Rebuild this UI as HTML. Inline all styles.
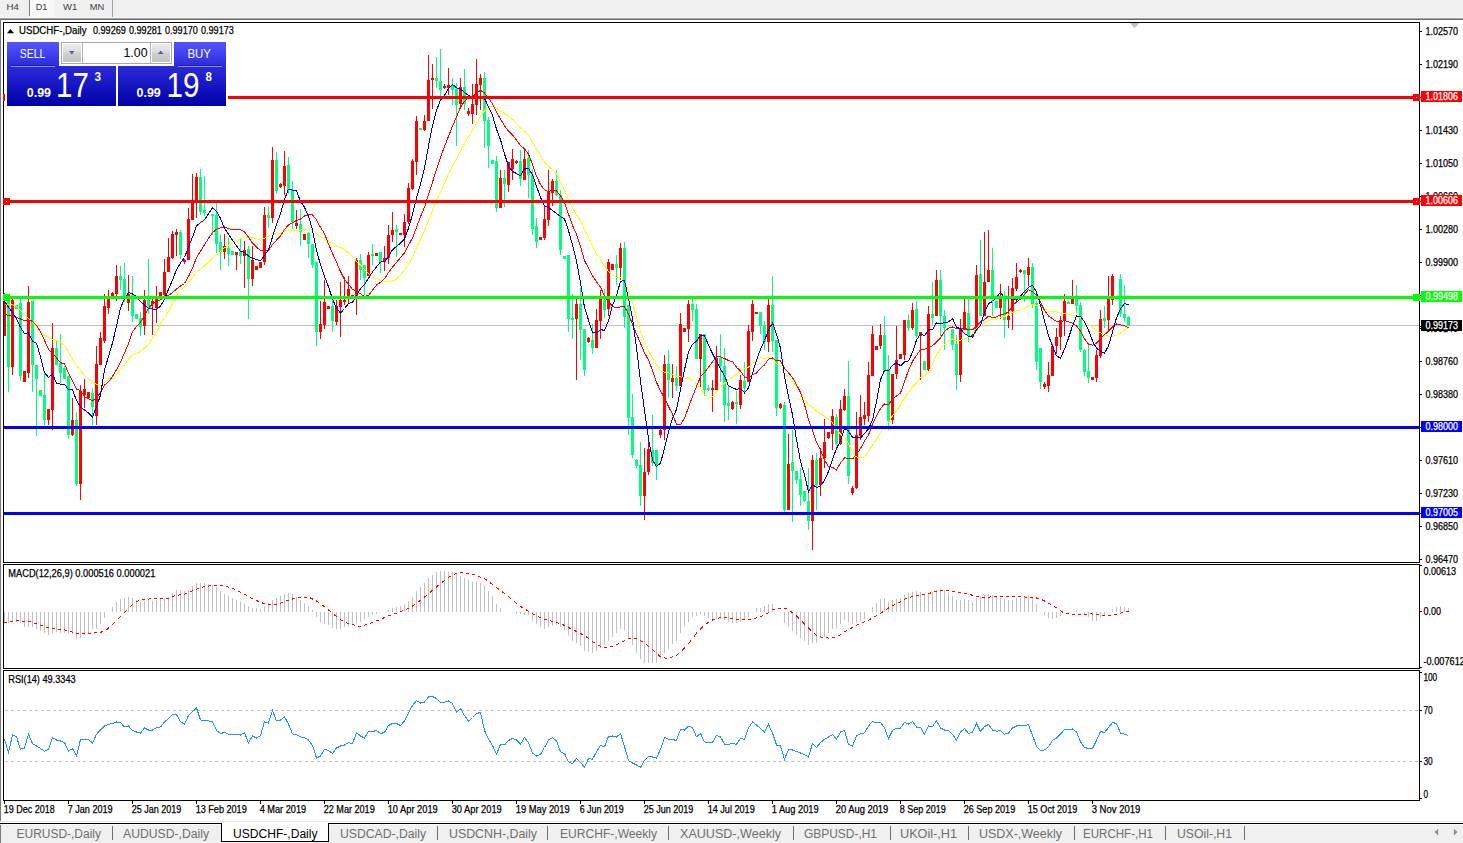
<!DOCTYPE html>
<html><head><meta charset="utf-8"><title>USDCHF-,Daily</title>
<style>html,body{margin:0;padding:0;background:#fff;overflow:hidden}body{width:1463px;height:843px;position:relative;font-family:"Liberation Sans", sans-serif}svg{position:absolute;left:0;top:0;display:block}text{font-family:"Liberation Sans", sans-serif;white-space:pre}</style>
</head><body>
<svg width="1463" height="843" viewBox="0 0 1463 843">
<defs>
<linearGradient id="gbtn" x1="0" y1="0" x2="0" y2="1"><stop offset="0" stop-color="#ececec"/><stop offset="0.45" stop-color="#dcdcdc"/><stop offset="0.5" stop-color="#cfcfcf"/><stop offset="1" stop-color="#c4c4c4"/></linearGradient>
<pattern id="st" x="4" y="0" width="6" height="843" patternUnits="userSpaceOnUse"><rect x="0" y="0" width="3" height="843" fill="#fff"/></pattern>
<mask id="dm" maskUnits="userSpaceOnUse" x="0" y="560" width="1420" height="112"><rect x="0" y="560" width="1420" height="112" fill="url(#st)"/></mask>
<linearGradient id="gb2" x1="0" y1="42" x2="0" y2="106" gradientUnits="userSpaceOnUse"><stop offset="0" stop-color="#5555ff"/><stop offset="0.4" stop-color="#2828d8"/><stop offset="1" stop-color="#0000a8"/></linearGradient>
</defs>
<g shape-rendering="crispEdges">
<rect x="0" y="0" width="1463" height="843" fill="#fff"/>
<rect x="0" y="0" width="1463" height="18" fill="#f0f0f0"/>
<rect x="0" y="17" width="1463" height="1" fill="#f6f6f6"/>
<rect x="0" y="18" width="1463" height="1" fill="#a6a6a6"/>
<rect x="0" y="19" width="1463" height="1" fill="#6c6c6c"/>
<rect x="30" y="0" width="24" height="17" fill="#f8f8f8"/>
<rect x="29" y="0" width="1" height="16" fill="#808080"/>
<rect x="112" y="0" width="1" height="17" fill="#a0a0a0"/>
<rect x="0" y="19" width="1" height="802" fill="#7a7a7a"/>
<rect x="1" y="20" width="1" height="801" fill="#f6f6f6"/>
<rect x="0" y="821" width="1463" height="1" fill="#e8e8e8"/>
<rect x="0" y="823" width="1463" height="1" fill="#000"/>
<rect x="0" y="824" width="1463" height="1" fill="#fbfbfb"/>
<rect x="0" y="825" width="1463" height="18" fill="#f0f0f0"/>
<rect x="0" y="825" width="1" height="18" fill="#7a7a7a"/>
</g>
<g shape-rendering="crispEdges">
<rect x="4" y="325" width="1415" height="1" fill="#c0c0c0"/>
<rect x="4" y="293" width="1" height="43" fill="#ff0000"/>
<rect x="3" y="303" width="3" height="33" fill="#ff0000"/>
<rect x="8" y="298" width="1" height="94" fill="#00ff7f"/>
<rect x="7" y="300" width="3" height="67" fill="#00ff7f"/>
<rect x="12" y="298" width="1" height="77" fill="#ff0000"/>
<rect x="11" y="300" width="3" height="67" fill="#ff0000"/>
<rect x="16" y="305" width="1" height="4" fill="#00ff7f"/>
<rect x="15" y="305" width="3" height="4" fill="#00ff7f"/>
<rect x="20" y="299" width="1" height="82" fill="#00ff7f"/>
<rect x="19" y="303" width="3" height="73" fill="#00ff7f"/>
<rect x="24" y="371" width="1" height="11" fill="#ff0000"/>
<rect x="23" y="371" width="3" height="11" fill="#ff0000"/>
<rect x="28" y="286" width="1" height="92" fill="#ff0000"/>
<rect x="27" y="302" width="3" height="71" fill="#ff0000"/>
<rect x="32" y="301" width="1" height="91" fill="#00ff7f"/>
<rect x="31" y="301" width="3" height="64" fill="#00ff7f"/>
<rect x="36" y="365" width="1" height="71" fill="#00ff7f"/>
<rect x="35" y="365" width="3" height="14" fill="#00ff7f"/>
<rect x="40" y="390" width="1" height="6" fill="#00ff7f"/>
<rect x="39" y="390" width="3" height="6" fill="#00ff7f"/>
<rect x="44" y="372" width="1" height="53" fill="#00ff7f"/>
<rect x="43" y="395" width="3" height="25" fill="#00ff7f"/>
<rect x="48" y="409" width="1" height="16" fill="#ff0000"/>
<rect x="47" y="409" width="3" height="11" fill="#ff0000"/>
<rect x="52" y="323" width="1" height="107" fill="#ff0000"/>
<rect x="51" y="348" width="3" height="62" fill="#ff0000"/>
<rect x="56" y="341" width="1" height="24" fill="#00ff7f"/>
<rect x="55" y="348" width="3" height="17" fill="#00ff7f"/>
<rect x="60" y="334" width="1" height="49" fill="#00ff7f"/>
<rect x="59" y="363" width="3" height="10" fill="#00ff7f"/>
<rect x="64" y="366" width="1" height="13" fill="#00ff7f"/>
<rect x="63" y="368" width="3" height="11" fill="#00ff7f"/>
<rect x="68" y="376" width="1" height="63" fill="#00ff7f"/>
<rect x="67" y="376" width="3" height="59" fill="#00ff7f"/>
<rect x="72" y="398" width="1" height="38" fill="#ff0000"/>
<rect x="71" y="420" width="3" height="15" fill="#ff0000"/>
<rect x="76" y="412" width="1" height="74" fill="#00ff7f"/>
<rect x="75" y="420" width="3" height="64" fill="#00ff7f"/>
<rect x="80" y="385" width="1" height="115" fill="#ff0000"/>
<rect x="79" y="391" width="3" height="93" fill="#ff0000"/>
<rect x="84" y="379" width="1" height="29" fill="#ff0000"/>
<rect x="83" y="389" width="3" height="6" fill="#ff0000"/>
<rect x="88" y="392" width="1" height="6" fill="#ff0000"/>
<rect x="87" y="392" width="3" height="6" fill="#ff0000"/>
<rect x="92" y="388" width="1" height="37" fill="#00ff7f"/>
<rect x="91" y="393" width="3" height="14" fill="#00ff7f"/>
<rect x="96" y="346" width="1" height="79" fill="#ff0000"/>
<rect x="95" y="364" width="3" height="52" fill="#ff0000"/>
<rect x="100" y="332" width="1" height="33" fill="#ff0000"/>
<rect x="99" y="338" width="3" height="27" fill="#ff0000"/>
<rect x="104" y="294" width="1" height="49" fill="#ff0000"/>
<rect x="103" y="306" width="3" height="35" fill="#ff0000"/>
<rect x="108" y="290" width="1" height="24" fill="#ff0000"/>
<rect x="107" y="299" width="3" height="9" fill="#ff0000"/>
<rect x="112" y="292" width="1" height="4" fill="#ff0000"/>
<rect x="111" y="293" width="3" height="3" fill="#ff0000"/>
<rect x="116" y="265" width="1" height="36" fill="#ff0000"/>
<rect x="115" y="276" width="3" height="18" fill="#ff0000"/>
<rect x="120" y="266" width="1" height="24" fill="#00ff7f"/>
<rect x="119" y="276" width="3" height="4" fill="#00ff7f"/>
<rect x="124" y="263" width="1" height="39" fill="#00ff7f"/>
<rect x="123" y="279" width="3" height="20" fill="#00ff7f"/>
<rect x="128" y="275" width="1" height="36" fill="#ff0000"/>
<rect x="127" y="294" width="3" height="9" fill="#ff0000"/>
<rect x="132" y="276" width="1" height="46" fill="#00ff7f"/>
<rect x="131" y="295" width="3" height="21" fill="#00ff7f"/>
<rect x="136" y="314" width="1" height="5" fill="#00ff7f"/>
<rect x="135" y="314" width="3" height="5" fill="#00ff7f"/>
<rect x="140" y="312" width="1" height="24" fill="#00ff7f"/>
<rect x="139" y="318" width="3" height="9" fill="#00ff7f"/>
<rect x="144" y="290" width="1" height="45" fill="#ff0000"/>
<rect x="143" y="300" width="3" height="26" fill="#ff0000"/>
<rect x="148" y="259" width="1" height="55" fill="#00ff7f"/>
<rect x="147" y="300" width="3" height="6" fill="#00ff7f"/>
<rect x="152" y="296" width="1" height="39" fill="#ff0000"/>
<rect x="151" y="301" width="3" height="3" fill="#ff0000"/>
<rect x="156" y="286" width="1" height="37" fill="#ff0000"/>
<rect x="155" y="298" width="3" height="10" fill="#ff0000"/>
<rect x="160" y="292" width="1" height="4" fill="#ff0000"/>
<rect x="159" y="292" width="3" height="4" fill="#ff0000"/>
<rect x="164" y="259" width="1" height="37" fill="#ff0000"/>
<rect x="163" y="272" width="3" height="23" fill="#ff0000"/>
<rect x="168" y="238" width="1" height="34" fill="#ff0000"/>
<rect x="167" y="257" width="3" height="15" fill="#ff0000"/>
<rect x="172" y="231" width="1" height="28" fill="#ff0000"/>
<rect x="171" y="234" width="3" height="24" fill="#ff0000"/>
<rect x="176" y="229" width="1" height="27" fill="#ff0000"/>
<rect x="175" y="232" width="3" height="3" fill="#ff0000"/>
<rect x="180" y="230" width="1" height="29" fill="#00ff7f"/>
<rect x="179" y="232" width="3" height="23" fill="#00ff7f"/>
<rect x="184" y="259" width="1" height="5" fill="#ff0000"/>
<rect x="183" y="260" width="3" height="2" fill="#ff0000"/>
<rect x="188" y="208" width="1" height="52" fill="#ff0000"/>
<rect x="187" y="219" width="3" height="41" fill="#ff0000"/>
<rect x="192" y="174" width="1" height="46" fill="#ff0000"/>
<rect x="191" y="202" width="3" height="18" fill="#ff0000"/>
<rect x="196" y="173" width="1" height="45" fill="#ff0000"/>
<rect x="195" y="177" width="3" height="25" fill="#ff0000"/>
<rect x="200" y="169" width="1" height="46" fill="#00ff7f"/>
<rect x="199" y="177" width="3" height="35" fill="#00ff7f"/>
<rect x="204" y="176" width="1" height="40" fill="#00ff7f"/>
<rect x="203" y="210" width="3" height="3" fill="#00ff7f"/>
<rect x="212" y="214" width="1" height="21" fill="#00ff7f"/>
<rect x="211" y="214" width="3" height="2" fill="#00ff7f"/>
<rect x="216" y="202" width="1" height="51" fill="#00ff7f"/>
<rect x="215" y="215" width="3" height="29" fill="#00ff7f"/>
<rect x="220" y="235" width="1" height="35" fill="#00ff7f"/>
<rect x="219" y="242" width="3" height="10" fill="#00ff7f"/>
<rect x="224" y="234" width="1" height="25" fill="#ff0000"/>
<rect x="223" y="246" width="3" height="6" fill="#ff0000"/>
<rect x="228" y="238" width="1" height="28" fill="#00ff7f"/>
<rect x="227" y="248" width="3" height="6" fill="#00ff7f"/>
<rect x="232" y="251" width="1" height="4" fill="#00ff7f"/>
<rect x="231" y="251" width="3" height="4" fill="#00ff7f"/>
<rect x="236" y="252" width="1" height="18" fill="#ff0000"/>
<rect x="235" y="252" width="3" height="3" fill="#ff0000"/>
<rect x="240" y="238" width="1" height="26" fill="#00ff7f"/>
<rect x="239" y="252" width="3" height="4" fill="#00ff7f"/>
<rect x="244" y="241" width="1" height="47" fill="#ff0000"/>
<rect x="243" y="250" width="3" height="6" fill="#ff0000"/>
<rect x="248" y="246" width="1" height="73" fill="#00ff7f"/>
<rect x="247" y="249" width="3" height="30" fill="#00ff7f"/>
<rect x="252" y="246" width="1" height="40" fill="#ff0000"/>
<rect x="251" y="260" width="3" height="19" fill="#ff0000"/>
<rect x="256" y="266" width="1" height="4" fill="#ff0000"/>
<rect x="255" y="266" width="3" height="4" fill="#ff0000"/>
<rect x="260" y="262" width="1" height="6" fill="#ff0000"/>
<rect x="259" y="262" width="3" height="6" fill="#ff0000"/>
<rect x="264" y="207" width="1" height="58" fill="#ff0000"/>
<rect x="263" y="215" width="3" height="47" fill="#ff0000"/>
<rect x="268" y="206" width="1" height="22" fill="#00ff7f"/>
<rect x="267" y="215" width="3" height="3" fill="#00ff7f"/>
<rect x="272" y="147" width="1" height="76" fill="#ff0000"/>
<rect x="271" y="160" width="3" height="58" fill="#ff0000"/>
<rect x="276" y="152" width="1" height="42" fill="#00ff7f"/>
<rect x="275" y="160" width="3" height="31" fill="#00ff7f"/>
<rect x="280" y="183" width="1" height="5" fill="#ff0000"/>
<rect x="279" y="184" width="3" height="3" fill="#ff0000"/>
<rect x="284" y="151" width="1" height="44" fill="#ff0000"/>
<rect x="283" y="166" width="3" height="20" fill="#ff0000"/>
<rect x="288" y="157" width="1" height="37" fill="#00ff7f"/>
<rect x="287" y="165" width="3" height="25" fill="#00ff7f"/>
<rect x="292" y="181" width="1" height="48" fill="#00ff7f"/>
<rect x="291" y="190" width="3" height="32" fill="#00ff7f"/>
<rect x="296" y="210" width="1" height="19" fill="#ff0000"/>
<rect x="295" y="223" width="3" height="3" fill="#ff0000"/>
<rect x="300" y="209" width="1" height="37" fill="#00ff7f"/>
<rect x="299" y="224" width="3" height="8" fill="#00ff7f"/>
<rect x="304" y="234" width="1" height="6" fill="#ff0000"/>
<rect x="303" y="234" width="3" height="6" fill="#ff0000"/>
<rect x="308" y="232" width="1" height="26" fill="#00ff7f"/>
<rect x="307" y="233" width="3" height="11" fill="#00ff7f"/>
<rect x="312" y="244" width="1" height="24" fill="#00ff7f"/>
<rect x="311" y="244" width="3" height="21" fill="#00ff7f"/>
<rect x="316" y="262" width="1" height="84" fill="#00ff7f"/>
<rect x="315" y="262" width="3" height="70" fill="#00ff7f"/>
<rect x="320" y="301" width="1" height="38" fill="#ff0000"/>
<rect x="319" y="324" width="3" height="8" fill="#ff0000"/>
<rect x="324" y="280" width="1" height="49" fill="#ff0000"/>
<rect x="323" y="302" width="3" height="23" fill="#ff0000"/>
<rect x="328" y="306" width="1" height="3" fill="#ff0000"/>
<rect x="327" y="306" width="3" height="3" fill="#ff0000"/>
<rect x="332" y="300" width="1" height="32" fill="#00ff7f"/>
<rect x="331" y="306" width="3" height="15" fill="#00ff7f"/>
<rect x="336" y="300" width="1" height="25" fill="#ff0000"/>
<rect x="335" y="306" width="3" height="16" fill="#ff0000"/>
<rect x="340" y="282" width="1" height="55" fill="#ff0000"/>
<rect x="339" y="300" width="3" height="7" fill="#ff0000"/>
<rect x="344" y="277" width="1" height="28" fill="#ff0000"/>
<rect x="343" y="300" width="3" height="2" fill="#ff0000"/>
<rect x="348" y="276" width="1" height="27" fill="#ff0000"/>
<rect x="347" y="289" width="3" height="8" fill="#ff0000"/>
<rect x="352" y="295" width="1" height="2" fill="#ff0000"/>
<rect x="351" y="295" width="3" height="2" fill="#ff0000"/>
<rect x="356" y="258" width="1" height="57" fill="#ff0000"/>
<rect x="355" y="260" width="3" height="36" fill="#ff0000"/>
<rect x="360" y="254" width="1" height="26" fill="#00ff7f"/>
<rect x="359" y="260" width="3" height="10" fill="#00ff7f"/>
<rect x="364" y="265" width="1" height="30" fill="#00ff7f"/>
<rect x="363" y="265" width="3" height="13" fill="#00ff7f"/>
<rect x="368" y="252" width="1" height="24" fill="#ff0000"/>
<rect x="367" y="255" width="3" height="21" fill="#ff0000"/>
<rect x="372" y="244" width="1" height="21" fill="#00ff7f"/>
<rect x="371" y="254" width="3" height="2" fill="#00ff7f"/>
<rect x="376" y="253" width="1" height="3" fill="#ff0000"/>
<rect x="375" y="253" width="3" height="3" fill="#ff0000"/>
<rect x="380" y="252" width="1" height="21" fill="#00ff7f"/>
<rect x="379" y="252" width="3" height="10" fill="#00ff7f"/>
<rect x="384" y="246" width="1" height="25" fill="#ff0000"/>
<rect x="383" y="258" width="3" height="4" fill="#ff0000"/>
<rect x="388" y="225" width="1" height="39" fill="#ff0000"/>
<rect x="387" y="235" width="3" height="23" fill="#ff0000"/>
<rect x="392" y="212" width="1" height="30" fill="#ff0000"/>
<rect x="391" y="230" width="3" height="5" fill="#ff0000"/>
<rect x="396" y="225" width="1" height="32" fill="#00ff7f"/>
<rect x="395" y="229" width="3" height="3" fill="#00ff7f"/>
<rect x="400" y="233" width="1" height="2" fill="#ff0000"/>
<rect x="399" y="233" width="3" height="2" fill="#ff0000"/>
<rect x="404" y="214" width="1" height="33" fill="#ff0000"/>
<rect x="403" y="222" width="3" height="13" fill="#ff0000"/>
<rect x="408" y="183" width="1" height="41" fill="#ff0000"/>
<rect x="407" y="188" width="3" height="34" fill="#ff0000"/>
<rect x="412" y="159" width="1" height="31" fill="#ff0000"/>
<rect x="411" y="161" width="3" height="28" fill="#ff0000"/>
<rect x="416" y="116" width="1" height="59" fill="#ff0000"/>
<rect x="415" y="121" width="3" height="41" fill="#ff0000"/>
<rect x="420" y="128" width="1" height="2" fill="#00ff7f"/>
<rect x="419" y="128" width="3" height="2" fill="#00ff7f"/>
<rect x="424" y="115" width="1" height="16" fill="#ff0000"/>
<rect x="423" y="121" width="3" height="9" fill="#ff0000"/>
<rect x="428" y="55" width="1" height="66" fill="#ff0000"/>
<rect x="427" y="80" width="3" height="41" fill="#ff0000"/>
<rect x="432" y="64" width="1" height="45" fill="#ff0000"/>
<rect x="431" y="78" width="3" height="2" fill="#ff0000"/>
<rect x="436" y="57" width="1" height="31" fill="#00ff7f"/>
<rect x="435" y="78" width="3" height="3" fill="#00ff7f"/>
<rect x="440" y="49" width="1" height="47" fill="#00ff7f"/>
<rect x="439" y="81" width="3" height="9" fill="#00ff7f"/>
<rect x="444" y="84" width="1" height="5" fill="#ff0000"/>
<rect x="443" y="86" width="3" height="2" fill="#ff0000"/>
<rect x="448" y="68" width="1" height="27" fill="#ff0000"/>
<rect x="447" y="85" width="3" height="3" fill="#ff0000"/>
<rect x="452" y="78" width="1" height="27" fill="#00ff7f"/>
<rect x="451" y="86" width="3" height="4" fill="#00ff7f"/>
<rect x="456" y="83" width="1" height="63" fill="#00ff7f"/>
<rect x="455" y="89" width="3" height="16" fill="#00ff7f"/>
<rect x="460" y="78" width="1" height="28" fill="#ff0000"/>
<rect x="459" y="87" width="3" height="17" fill="#ff0000"/>
<rect x="464" y="69" width="1" height="41" fill="#00ff7f"/>
<rect x="463" y="87" width="3" height="17" fill="#00ff7f"/>
<rect x="468" y="108" width="1" height="8" fill="#ff0000"/>
<rect x="467" y="111" width="3" height="3" fill="#ff0000"/>
<rect x="472" y="84" width="1" height="40" fill="#ff0000"/>
<rect x="471" y="104" width="3" height="10" fill="#ff0000"/>
<rect x="476" y="59" width="1" height="56" fill="#ff0000"/>
<rect x="475" y="84" width="3" height="21" fill="#ff0000"/>
<rect x="480" y="74" width="1" height="36" fill="#ff0000"/>
<rect x="479" y="78" width="3" height="7" fill="#ff0000"/>
<rect x="484" y="72" width="1" height="76" fill="#00ff7f"/>
<rect x="483" y="78" width="3" height="43" fill="#00ff7f"/>
<rect x="488" y="117" width="1" height="51" fill="#00ff7f"/>
<rect x="487" y="120" width="3" height="26" fill="#00ff7f"/>
<rect x="492" y="160" width="1" height="4" fill="#00ff7f"/>
<rect x="491" y="160" width="3" height="4" fill="#00ff7f"/>
<rect x="496" y="156" width="1" height="56" fill="#00ff7f"/>
<rect x="495" y="161" width="3" height="47" fill="#00ff7f"/>
<rect x="500" y="170" width="1" height="38" fill="#ff0000"/>
<rect x="499" y="178" width="3" height="30" fill="#ff0000"/>
<rect x="504" y="170" width="1" height="37" fill="#00ff7f"/>
<rect x="503" y="178" width="3" height="6" fill="#00ff7f"/>
<rect x="508" y="162" width="1" height="30" fill="#ff0000"/>
<rect x="507" y="162" width="3" height="23" fill="#ff0000"/>
<rect x="512" y="149" width="1" height="31" fill="#ff0000"/>
<rect x="511" y="159" width="3" height="10" fill="#ff0000"/>
<rect x="516" y="160" width="1" height="4" fill="#ff0000"/>
<rect x="515" y="161" width="3" height="2" fill="#ff0000"/>
<rect x="520" y="150" width="1" height="36" fill="#00ff7f"/>
<rect x="519" y="161" width="3" height="18" fill="#00ff7f"/>
<rect x="524" y="150" width="1" height="30" fill="#ff0000"/>
<rect x="523" y="159" width="3" height="21" fill="#ff0000"/>
<rect x="528" y="150" width="1" height="48" fill="#00ff7f"/>
<rect x="527" y="158" width="3" height="17" fill="#00ff7f"/>
<rect x="532" y="169" width="1" height="66" fill="#00ff7f"/>
<rect x="531" y="175" width="3" height="54" fill="#00ff7f"/>
<rect x="536" y="218" width="1" height="30" fill="#00ff7f"/>
<rect x="535" y="226" width="3" height="16" fill="#00ff7f"/>
<rect x="540" y="237" width="1" height="3" fill="#ff0000"/>
<rect x="539" y="237" width="3" height="3" fill="#ff0000"/>
<rect x="544" y="205" width="1" height="35" fill="#ff0000"/>
<rect x="543" y="219" width="3" height="19" fill="#ff0000"/>
<rect x="548" y="170" width="1" height="56" fill="#ff0000"/>
<rect x="547" y="191" width="3" height="29" fill="#ff0000"/>
<rect x="552" y="179" width="1" height="27" fill="#ff0000"/>
<rect x="551" y="181" width="3" height="12" fill="#ff0000"/>
<rect x="556" y="170" width="1" height="26" fill="#00ff7f"/>
<rect x="555" y="181" width="3" height="14" fill="#00ff7f"/>
<rect x="560" y="190" width="1" height="65" fill="#00ff7f"/>
<rect x="559" y="195" width="3" height="55" fill="#00ff7f"/>
<rect x="564" y="256" width="1" height="3" fill="#00ff7f"/>
<rect x="563" y="256" width="3" height="3" fill="#00ff7f"/>
<rect x="568" y="255" width="1" height="77" fill="#00ff7f"/>
<rect x="567" y="255" width="3" height="64" fill="#00ff7f"/>
<rect x="572" y="294" width="1" height="45" fill="#00ff7f"/>
<rect x="571" y="318" width="3" height="2" fill="#00ff7f"/>
<rect x="576" y="299" width="1" height="81" fill="#ff0000"/>
<rect x="575" y="304" width="3" height="15" fill="#ff0000"/>
<rect x="580" y="288" width="1" height="72" fill="#00ff7f"/>
<rect x="579" y="304" width="3" height="26" fill="#00ff7f"/>
<rect x="584" y="329" width="1" height="47" fill="#00ff7f"/>
<rect x="583" y="329" width="3" height="41" fill="#00ff7f"/>
<rect x="588" y="337" width="1" height="6" fill="#ff0000"/>
<rect x="587" y="338" width="3" height="4" fill="#ff0000"/>
<rect x="592" y="324" width="1" height="30" fill="#00ff7f"/>
<rect x="591" y="340" width="3" height="8" fill="#00ff7f"/>
<rect x="596" y="309" width="1" height="39" fill="#ff0000"/>
<rect x="595" y="320" width="3" height="28" fill="#ff0000"/>
<rect x="600" y="290" width="1" height="49" fill="#ff0000"/>
<rect x="599" y="298" width="3" height="23" fill="#ff0000"/>
<rect x="604" y="289" width="1" height="29" fill="#00ff7f"/>
<rect x="603" y="300" width="3" height="10" fill="#00ff7f"/>
<rect x="608" y="259" width="1" height="57" fill="#ff0000"/>
<rect x="607" y="262" width="3" height="47" fill="#ff0000"/>
<rect x="612" y="264" width="1" height="6" fill="#ff0000"/>
<rect x="611" y="264" width="3" height="6" fill="#ff0000"/>
<rect x="616" y="255" width="1" height="30" fill="#00ff7f"/>
<rect x="615" y="264" width="3" height="4" fill="#00ff7f"/>
<rect x="620" y="243" width="1" height="37" fill="#ff0000"/>
<rect x="619" y="248" width="3" height="20" fill="#ff0000"/>
<rect x="624" y="242" width="1" height="86" fill="#00ff7f"/>
<rect x="623" y="248" width="3" height="69" fill="#00ff7f"/>
<rect x="628" y="305" width="1" height="130" fill="#00ff7f"/>
<rect x="627" y="305" width="3" height="113" fill="#00ff7f"/>
<rect x="632" y="394" width="1" height="64" fill="#00ff7f"/>
<rect x="631" y="417" width="3" height="38" fill="#00ff7f"/>
<rect x="636" y="459" width="1" height="9" fill="#00ff7f"/>
<rect x="635" y="460" width="3" height="6" fill="#00ff7f"/>
<rect x="640" y="442" width="1" height="64" fill="#00ff7f"/>
<rect x="639" y="465" width="3" height="31" fill="#00ff7f"/>
<rect x="644" y="448" width="1" height="72" fill="#ff0000"/>
<rect x="643" y="472" width="3" height="24" fill="#ff0000"/>
<rect x="648" y="441" width="1" height="34" fill="#ff0000"/>
<rect x="647" y="449" width="3" height="23" fill="#ff0000"/>
<rect x="652" y="415" width="1" height="51" fill="#00ff7f"/>
<rect x="651" y="450" width="3" height="13" fill="#00ff7f"/>
<rect x="656" y="450" width="1" height="30" fill="#00ff7f"/>
<rect x="655" y="450" width="3" height="15" fill="#00ff7f"/>
<rect x="660" y="429" width="1" height="9" fill="#ff0000"/>
<rect x="659" y="430" width="3" height="5" fill="#ff0000"/>
<rect x="664" y="355" width="1" height="85" fill="#ff0000"/>
<rect x="663" y="364" width="3" height="66" fill="#ff0000"/>
<rect x="668" y="350" width="1" height="48" fill="#00ff7f"/>
<rect x="667" y="364" width="3" height="16" fill="#00ff7f"/>
<rect x="672" y="364" width="1" height="34" fill="#ff0000"/>
<rect x="671" y="378" width="3" height="4" fill="#ff0000"/>
<rect x="676" y="366" width="1" height="25" fill="#00ff7f"/>
<rect x="675" y="378" width="3" height="8" fill="#00ff7f"/>
<rect x="680" y="313" width="1" height="73" fill="#ff0000"/>
<rect x="679" y="324" width="3" height="62" fill="#ff0000"/>
<rect x="684" y="328" width="1" height="4" fill="#ff0000"/>
<rect x="683" y="328" width="3" height="4" fill="#ff0000"/>
<rect x="688" y="300" width="1" height="42" fill="#ff0000"/>
<rect x="687" y="304" width="3" height="25" fill="#ff0000"/>
<rect x="692" y="298" width="1" height="23" fill="#00ff7f"/>
<rect x="691" y="304" width="3" height="6" fill="#00ff7f"/>
<rect x="696" y="304" width="1" height="55" fill="#00ff7f"/>
<rect x="695" y="309" width="3" height="50" fill="#00ff7f"/>
<rect x="700" y="334" width="1" height="54" fill="#ff0000"/>
<rect x="699" y="334" width="3" height="25" fill="#ff0000"/>
<rect x="704" y="334" width="1" height="62" fill="#00ff7f"/>
<rect x="703" y="334" width="3" height="56" fill="#00ff7f"/>
<rect x="708" y="385" width="1" height="6" fill="#00ff7f"/>
<rect x="707" y="388" width="3" height="2" fill="#00ff7f"/>
<rect x="712" y="380" width="1" height="32" fill="#ff0000"/>
<rect x="711" y="388" width="3" height="2" fill="#ff0000"/>
<rect x="716" y="346" width="1" height="44" fill="#ff0000"/>
<rect x="715" y="358" width="3" height="32" fill="#ff0000"/>
<rect x="720" y="334" width="1" height="48" fill="#00ff7f"/>
<rect x="719" y="358" width="3" height="8" fill="#00ff7f"/>
<rect x="724" y="348" width="1" height="74" fill="#00ff7f"/>
<rect x="723" y="366" width="3" height="39" fill="#00ff7f"/>
<rect x="728" y="386" width="1" height="34" fill="#00ff7f"/>
<rect x="727" y="403" width="3" height="3" fill="#00ff7f"/>
<rect x="732" y="401" width="1" height="9" fill="#ff0000"/>
<rect x="731" y="402" width="3" height="7" fill="#ff0000"/>
<rect x="736" y="391" width="1" height="33" fill="#00ff7f"/>
<rect x="735" y="402" width="3" height="2" fill="#00ff7f"/>
<rect x="740" y="375" width="1" height="34" fill="#ff0000"/>
<rect x="739" y="380" width="3" height="25" fill="#ff0000"/>
<rect x="744" y="362" width="1" height="32" fill="#00ff7f"/>
<rect x="743" y="381" width="3" height="7" fill="#00ff7f"/>
<rect x="748" y="325" width="1" height="57" fill="#ff0000"/>
<rect x="747" y="331" width="3" height="51" fill="#ff0000"/>
<rect x="752" y="300" width="1" height="41" fill="#ff0000"/>
<rect x="751" y="304" width="3" height="28" fill="#ff0000"/>
<rect x="756" y="312" width="1" height="2" fill="#ff0000"/>
<rect x="755" y="312" width="3" height="2" fill="#ff0000"/>
<rect x="760" y="312" width="1" height="22" fill="#00ff7f"/>
<rect x="759" y="312" width="3" height="14" fill="#00ff7f"/>
<rect x="764" y="321" width="1" height="29" fill="#00ff7f"/>
<rect x="763" y="325" width="3" height="17" fill="#00ff7f"/>
<rect x="768" y="298" width="1" height="54" fill="#ff0000"/>
<rect x="767" y="305" width="3" height="37" fill="#ff0000"/>
<rect x="772" y="276" width="1" height="76" fill="#00ff7f"/>
<rect x="771" y="305" width="3" height="36" fill="#00ff7f"/>
<rect x="776" y="340" width="1" height="76" fill="#00ff7f"/>
<rect x="775" y="340" width="3" height="68" fill="#00ff7f"/>
<rect x="780" y="403" width="1" height="6" fill="#ff0000"/>
<rect x="779" y="404" width="3" height="4" fill="#ff0000"/>
<rect x="784" y="402" width="1" height="110" fill="#00ff7f"/>
<rect x="783" y="405" width="3" height="105" fill="#00ff7f"/>
<rect x="788" y="434" width="1" height="76" fill="#ff0000"/>
<rect x="787" y="464" width="3" height="46" fill="#ff0000"/>
<rect x="792" y="430" width="1" height="92" fill="#00ff7f"/>
<rect x="791" y="462" width="3" height="9" fill="#00ff7f"/>
<rect x="796" y="471" width="1" height="13" fill="#00ff7f"/>
<rect x="795" y="471" width="3" height="9" fill="#00ff7f"/>
<rect x="800" y="468" width="1" height="38" fill="#00ff7f"/>
<rect x="799" y="479" width="3" height="16" fill="#00ff7f"/>
<rect x="804" y="491" width="1" height="11" fill="#00ff7f"/>
<rect x="803" y="491" width="3" height="10" fill="#00ff7f"/>
<rect x="808" y="468" width="1" height="62" fill="#00ff7f"/>
<rect x="807" y="501" width="3" height="20" fill="#00ff7f"/>
<rect x="812" y="455" width="1" height="95" fill="#ff0000"/>
<rect x="811" y="460" width="3" height="61" fill="#ff0000"/>
<rect x="816" y="453" width="1" height="57" fill="#00ff7f"/>
<rect x="815" y="460" width="3" height="25" fill="#00ff7f"/>
<rect x="820" y="448" width="1" height="48" fill="#ff0000"/>
<rect x="819" y="458" width="3" height="27" fill="#ff0000"/>
<rect x="824" y="419" width="1" height="49" fill="#ff0000"/>
<rect x="823" y="442" width="3" height="16" fill="#ff0000"/>
<rect x="828" y="432" width="1" height="7" fill="#ff0000"/>
<rect x="827" y="432" width="3" height="6" fill="#ff0000"/>
<rect x="832" y="409" width="1" height="41" fill="#ff0000"/>
<rect x="831" y="416" width="3" height="18" fill="#ff0000"/>
<rect x="836" y="414" width="1" height="32" fill="#00ff7f"/>
<rect x="835" y="417" width="3" height="27" fill="#00ff7f"/>
<rect x="840" y="400" width="1" height="45" fill="#ff0000"/>
<rect x="839" y="409" width="3" height="35" fill="#ff0000"/>
<rect x="844" y="389" width="1" height="22" fill="#ff0000"/>
<rect x="843" y="396" width="3" height="14" fill="#ff0000"/>
<rect x="848" y="361" width="1" height="123" fill="#00ff7f"/>
<rect x="847" y="396" width="3" height="80" fill="#00ff7f"/>
<rect x="852" y="486" width="1" height="9" fill="#ff0000"/>
<rect x="851" y="488" width="3" height="5" fill="#ff0000"/>
<rect x="856" y="412" width="1" height="77" fill="#ff0000"/>
<rect x="855" y="435" width="3" height="53" fill="#ff0000"/>
<rect x="860" y="395" width="1" height="45" fill="#ff0000"/>
<rect x="859" y="417" width="3" height="19" fill="#ff0000"/>
<rect x="864" y="402" width="1" height="23" fill="#ff0000"/>
<rect x="863" y="415" width="3" height="4" fill="#ff0000"/>
<rect x="868" y="362" width="1" height="60" fill="#ff0000"/>
<rect x="867" y="375" width="3" height="41" fill="#ff0000"/>
<rect x="872" y="326" width="1" height="50" fill="#ff0000"/>
<rect x="871" y="334" width="3" height="42" fill="#ff0000"/>
<rect x="876" y="346" width="1" height="4" fill="#ff0000"/>
<rect x="875" y="346" width="3" height="4" fill="#ff0000"/>
<rect x="880" y="324" width="1" height="25" fill="#ff0000"/>
<rect x="879" y="335" width="3" height="11" fill="#ff0000"/>
<rect x="884" y="316" width="1" height="56" fill="#00ff7f"/>
<rect x="883" y="335" width="3" height="35" fill="#00ff7f"/>
<rect x="888" y="355" width="1" height="75" fill="#00ff7f"/>
<rect x="887" y="369" width="3" height="52" fill="#00ff7f"/>
<rect x="892" y="374" width="1" height="50" fill="#ff0000"/>
<rect x="891" y="374" width="3" height="46" fill="#ff0000"/>
<rect x="896" y="326" width="1" height="53" fill="#ff0000"/>
<rect x="895" y="360" width="3" height="14" fill="#ff0000"/>
<rect x="900" y="354" width="1" height="5" fill="#ff0000"/>
<rect x="899" y="354" width="3" height="5" fill="#ff0000"/>
<rect x="904" y="320" width="1" height="40" fill="#ff0000"/>
<rect x="903" y="320" width="3" height="35" fill="#ff0000"/>
<rect x="908" y="314" width="1" height="17" fill="#00ff7f"/>
<rect x="907" y="320" width="3" height="8" fill="#00ff7f"/>
<rect x="912" y="303" width="1" height="27" fill="#ff0000"/>
<rect x="911" y="310" width="3" height="18" fill="#ff0000"/>
<rect x="916" y="301" width="1" height="37" fill="#00ff7f"/>
<rect x="915" y="309" width="3" height="27" fill="#00ff7f"/>
<rect x="920" y="332" width="1" height="48" fill="#ff0000"/>
<rect x="919" y="332" width="3" height="4" fill="#ff0000"/>
<rect x="924" y="361" width="1" height="9" fill="#00ff7f"/>
<rect x="923" y="361" width="3" height="9" fill="#00ff7f"/>
<rect x="928" y="306" width="1" height="65" fill="#ff0000"/>
<rect x="927" y="314" width="3" height="56" fill="#ff0000"/>
<rect x="932" y="282" width="1" height="43" fill="#00ff7f"/>
<rect x="931" y="314" width="3" height="4" fill="#00ff7f"/>
<rect x="936" y="270" width="1" height="46" fill="#ff0000"/>
<rect x="935" y="280" width="3" height="36" fill="#ff0000"/>
<rect x="940" y="270" width="1" height="66" fill="#00ff7f"/>
<rect x="939" y="280" width="3" height="36" fill="#00ff7f"/>
<rect x="944" y="310" width="1" height="40" fill="#00ff7f"/>
<rect x="943" y="316" width="3" height="12" fill="#00ff7f"/>
<rect x="952" y="329" width="1" height="21" fill="#00ff7f"/>
<rect x="951" y="329" width="3" height="16" fill="#00ff7f"/>
<rect x="956" y="335" width="1" height="55" fill="#00ff7f"/>
<rect x="955" y="344" width="3" height="31" fill="#00ff7f"/>
<rect x="960" y="319" width="1" height="63" fill="#ff0000"/>
<rect x="959" y="330" width="3" height="45" fill="#ff0000"/>
<rect x="964" y="299" width="1" height="31" fill="#ff0000"/>
<rect x="963" y="312" width="3" height="18" fill="#ff0000"/>
<rect x="968" y="299" width="1" height="43" fill="#00ff7f"/>
<rect x="967" y="313" width="3" height="23" fill="#00ff7f"/>
<rect x="972" y="334" width="1" height="3" fill="#ff0000"/>
<rect x="971" y="334" width="3" height="3" fill="#ff0000"/>
<rect x="976" y="265" width="1" height="65" fill="#ff0000"/>
<rect x="975" y="275" width="3" height="55" fill="#ff0000"/>
<rect x="980" y="240" width="1" height="76" fill="#00ff7f"/>
<rect x="979" y="274" width="3" height="42" fill="#00ff7f"/>
<rect x="984" y="232" width="1" height="84" fill="#ff0000"/>
<rect x="983" y="282" width="3" height="34" fill="#ff0000"/>
<rect x="988" y="230" width="1" height="52" fill="#ff0000"/>
<rect x="987" y="270" width="3" height="12" fill="#ff0000"/>
<rect x="992" y="248" width="1" height="68" fill="#00ff7f"/>
<rect x="991" y="270" width="3" height="28" fill="#00ff7f"/>
<rect x="996" y="301" width="1" height="7" fill="#00ff7f"/>
<rect x="995" y="301" width="3" height="7" fill="#00ff7f"/>
<rect x="1000" y="284" width="1" height="35" fill="#ff0000"/>
<rect x="999" y="296" width="3" height="12" fill="#ff0000"/>
<rect x="1004" y="291" width="1" height="47" fill="#00ff7f"/>
<rect x="1003" y="299" width="3" height="21" fill="#00ff7f"/>
<rect x="1008" y="286" width="1" height="42" fill="#ff0000"/>
<rect x="1007" y="316" width="3" height="4" fill="#ff0000"/>
<rect x="1012" y="278" width="1" height="52" fill="#ff0000"/>
<rect x="1011" y="288" width="3" height="23" fill="#ff0000"/>
<rect x="1016" y="263" width="1" height="28" fill="#ff0000"/>
<rect x="1015" y="277" width="3" height="12" fill="#ff0000"/>
<rect x="1020" y="269" width="1" height="4" fill="#ff0000"/>
<rect x="1019" y="270" width="3" height="2" fill="#ff0000"/>
<rect x="1024" y="270" width="1" height="32" fill="#00ff7f"/>
<rect x="1023" y="270" width="3" height="4" fill="#00ff7f"/>
<rect x="1028" y="258" width="1" height="28" fill="#ff0000"/>
<rect x="1027" y="267" width="3" height="8" fill="#ff0000"/>
<rect x="1032" y="263" width="1" height="45" fill="#00ff7f"/>
<rect x="1031" y="267" width="3" height="37" fill="#00ff7f"/>
<rect x="1036" y="301" width="1" height="69" fill="#00ff7f"/>
<rect x="1035" y="303" width="3" height="59" fill="#00ff7f"/>
<rect x="1040" y="348" width="1" height="41" fill="#00ff7f"/>
<rect x="1039" y="348" width="3" height="34" fill="#00ff7f"/>
<rect x="1044" y="382" width="1" height="7" fill="#ff0000"/>
<rect x="1043" y="384" width="3" height="3" fill="#ff0000"/>
<rect x="1048" y="362" width="1" height="30" fill="#ff0000"/>
<rect x="1047" y="375" width="3" height="11" fill="#ff0000"/>
<rect x="1052" y="344" width="1" height="32" fill="#ff0000"/>
<rect x="1051" y="346" width="3" height="30" fill="#ff0000"/>
<rect x="1056" y="328" width="1" height="26" fill="#ff0000"/>
<rect x="1055" y="337" width="3" height="9" fill="#ff0000"/>
<rect x="1060" y="316" width="1" height="34" fill="#ff0000"/>
<rect x="1059" y="320" width="3" height="17" fill="#ff0000"/>
<rect x="1064" y="294" width="1" height="42" fill="#ff0000"/>
<rect x="1063" y="301" width="3" height="19" fill="#ff0000"/>
<rect x="1068" y="301" width="1" height="3" fill="#00ff7f"/>
<rect x="1067" y="302" width="3" height="2" fill="#00ff7f"/>
<rect x="1072" y="280" width="1" height="24" fill="#ff0000"/>
<rect x="1071" y="299" width="3" height="5" fill="#ff0000"/>
<rect x="1076" y="285" width="1" height="28" fill="#00ff7f"/>
<rect x="1075" y="299" width="3" height="7" fill="#00ff7f"/>
<rect x="1080" y="302" width="1" height="50" fill="#00ff7f"/>
<rect x="1079" y="305" width="3" height="45" fill="#00ff7f"/>
<rect x="1084" y="349" width="1" height="27" fill="#00ff7f"/>
<rect x="1083" y="350" width="3" height="22" fill="#00ff7f"/>
<rect x="1088" y="344" width="1" height="39" fill="#00ff7f"/>
<rect x="1087" y="371" width="3" height="7" fill="#00ff7f"/>
<rect x="1092" y="377" width="1" height="3" fill="#ff0000"/>
<rect x="1091" y="377" width="3" height="3" fill="#ff0000"/>
<rect x="1096" y="350" width="1" height="32" fill="#ff0000"/>
<rect x="1095" y="355" width="3" height="23" fill="#ff0000"/>
<rect x="1100" y="310" width="1" height="48" fill="#ff0000"/>
<rect x="1099" y="319" width="3" height="37" fill="#ff0000"/>
<rect x="1104" y="306" width="1" height="22" fill="#00ff7f"/>
<rect x="1103" y="318" width="3" height="3" fill="#00ff7f"/>
<rect x="1108" y="276" width="1" height="56" fill="#ff0000"/>
<rect x="1107" y="299" width="3" height="21" fill="#ff0000"/>
<rect x="1112" y="274" width="1" height="31" fill="#ff0000"/>
<rect x="1111" y="276" width="3" height="24" fill="#ff0000"/>
<rect x="1120" y="274" width="1" height="43" fill="#00ff7f"/>
<rect x="1119" y="279" width="3" height="35" fill="#00ff7f"/>
<rect x="1124" y="285" width="1" height="37" fill="#00ff7f"/>
<rect x="1123" y="314" width="3" height="4" fill="#00ff7f"/>
<rect x="1128" y="316" width="1" height="10" fill="#00ff7f"/>
<rect x="1127" y="317" width="3" height="9" fill="#00ff7f"/>
</g>
<g shape-rendering="crispEdges">
<polyline points="4.5,304 8.5,304.1 12.5,304.6 16.5,306.4 20.5,310.4 24.5,314.4 28.5,318.3 32.5,322.3 36.5,326.6 40.5,331.4 44.5,335.1 48.5,337.7 52.5,339.3 56.5,340.4 60.5,342.6 64.5,345.3 68.5,352.1 72.5,359.5 76.5,365.4 80.5,371 84.5,375.3 88.5,379.5 92.5,381.4 96.5,384.5 100.5,385.9 104.5,382.6 108.5,379.1 112.5,378.7 116.5,374.5 120.5,369.7 124.5,365.1 128.5,359.1 132.5,354.7 136.5,353.4 140.5,351.5 144.5,348 148.5,344.5 152.5,338.2 156.5,332.4 160.5,323.2 164.5,317.5 168.5,311.3 172.5,303.7 176.5,295.4 180.5,290.2 184.5,286.5 188.5,282.3 192.5,277.7 196.5,272.2 200.5,269.2 204.5,266 208.5,261.9 212.5,258.2 216.5,254.8 220.5,251.6 224.5,247.8 228.5,245.6 232.5,243.2 236.5,240.9 240.5,238.9 244.5,236.9 248.5,237.2 252.5,237.4 256.5,238.8 260.5,240.2 264.5,238.3 268.5,236.3 272.5,233.5 276.5,233 280.5,233.3 284.5,231.1 288.5,230 292.5,230.4 296.5,230.7 300.5,230.2 304.5,229.3 308.5,229.2 312.5,229.7 316.5,233.4 320.5,236.8 324.5,239 328.5,241.7 332.5,243.7 336.5,245.9 340.5,247.5 344.5,249.3 348.5,252.9 352.5,256.5 356.5,261.3 360.5,265.1 364.5,269.6 368.5,273.8 372.5,277 376.5,278.4 380.5,280.3 384.5,281.5 388.5,281.5 392.5,280.8 396.5,279.3 400.5,274.5 404.5,269.7 408.5,264.2 412.5,257.3 416.5,247.8 420.5,239.4 424.5,230.9 428.5,220.4 432.5,210.4 436.5,200.2 440.5,192.1 444.5,183.3 448.5,174.1 452.5,166.3 456.5,159.1 460.5,151.2 464.5,143.6 468.5,136.7 472.5,130.4 476.5,123.5 480.5,116.1 484.5,110.8 488.5,107.2 492.5,106.1 496.5,108.3 500.5,111 504.5,113.5 508.5,115.5 512.5,119.2 516.5,123.2 520.5,127.9 524.5,131.1 528.5,135.4 532.5,142.2 536.5,149.5 540.5,155.8 544.5,162.1 548.5,166.2 552.5,169.5 556.5,173.9 560.5,181.8 564.5,190.4 568.5,199.8 572.5,208.1 576.5,214.8 580.5,220.6 584.5,229.8 588.5,237.1 592.5,246 596.5,253.6 600.5,260.1 604.5,266.4 608.5,271.3 612.5,275.5 616.5,277.3 620.5,277.6 624.5,281.4 628.5,290.9 632.5,303.4 636.5,317 640.5,331.3 644.5,341.9 648.5,351 652.5,357.8 656.5,364.7 660.5,370.7 664.5,372.3 668.5,372.8 672.5,374.7 676.5,376.5 680.5,376.7 684.5,378.2 688.5,377.9 692.5,380.2 696.5,384.7 700.5,387.9 704.5,394.7 708.5,398.2 712.5,396.7 716.5,392.1 720.5,387.3 724.5,383 728.5,379.8 732.5,377.5 736.5,374.7 740.5,370.7 744.5,368.7 748.5,367.1 752.5,363.5 756.5,360.4 760.5,357.5 764.5,358.4 768.5,357.3 772.5,359 776.5,363.7 780.5,365.8 784.5,374.2 788.5,377.7 792.5,381.6 796.5,386 800.5,392.5 804.5,399 808.5,404.5 812.5,407.1 816.5,411.1 820.5,413.6 824.5,416.6 828.5,418.7 832.5,422.8 836.5,429.5 840.5,434.1 844.5,437.4 848.5,443.8 852.5,452.5 856.5,457 860.5,457.4 864.5,457.9 868.5,451.5 872.5,445.3 876.5,439.4 880.5,432.5 884.5,426.5 888.5,422.7 892.5,415.7 896.5,410.9 900.5,404.7 904.5,398.1 908.5,392.6 912.5,386.8 916.5,383 920.5,377.6 924.5,375.8 928.5,371.9 932.5,364.4 936.5,354.5 940.5,348.8 944.5,344.5 948.5,340.4 952.5,339 956.5,340.9 960.5,340.1 964.5,339 968.5,337.4 972.5,333.3 976.5,328.6 980.5,326.5 984.5,323 988.5,320.7 992.5,319.2 996.5,319.2 1000.5,317.3 1004.5,316.7 1008.5,314.1 1012.5,312.8 1016.5,310.9 1020.5,310.4 1024.5,308.4 1028.5,305.5 1032.5,304.4 1036.5,305.2 1040.5,305.6 1044.5,308.2 1048.5,311.2 1052.5,311.6 1056.5,311.8 1060.5,313.9 1064.5,313.2 1068.5,314.2 1072.5,315.6 1076.5,316 1080.5,318 1084.5,321.6 1088.5,324.4 1092.5,327.3 1096.5,330.6 1100.5,332.6 1104.5,335 1108.5,336.2 1112.5,336.6 1116.5,335.3 1120.5,333 1124.5,330 1128.5,327.2" fill="none" stroke="#ffff00" stroke-width="1"/>
<polyline points="4.5,314 8.5,315.4 12.5,316.5 16.5,317.4 20.5,319 24.5,320.9 28.5,319.7 32.5,321.5 36.5,325.2 40.5,332.2 44.5,340.3 48.5,349.4 52.5,353.7 56.5,357.8 60.5,362.8 64.5,363.7 68.5,373.3 72.5,381.2 76.5,389 80.5,390.4 84.5,396.6 88.5,398.6 92.5,400.6 96.5,398.3 100.5,392.5 104.5,385.1 108.5,381.7 112.5,376.5 116.5,369.6 120.5,362.5 124.5,352.8 128.5,343.8 132.5,331.8 136.5,326.7 140.5,322.2 144.5,315.6 148.5,308.4 152.5,303.9 156.5,301 160.5,299.9 164.5,298 168.5,295.4 172.5,292.5 176.5,289.1 180.5,286 184.5,283.5 188.5,276.5 192.5,268.2 196.5,257.5 200.5,251.3 204.5,244.7 208.5,238.4 212.5,232.6 216.5,229.2 220.5,227.8 224.5,227 228.5,228.4 232.5,230 236.5,229.8 240.5,229.6 244.5,231.8 248.5,237.2 252.5,243.2 256.5,247 260.5,250.5 264.5,250.6 268.5,250.6 272.5,244.6 276.5,240.2 280.5,235.8 284.5,229.5 288.5,224.9 292.5,222.8 296.5,220.4 300.5,219.1 304.5,215.9 308.5,214.8 312.5,214.8 316.5,219.8 320.5,227.5 324.5,233.6 328.5,244 332.5,253.3 336.5,262 340.5,271.6 344.5,279.5 348.5,284.2 352.5,289.4 356.5,291.3 360.5,293.9 364.5,296.4 368.5,295.6 372.5,290.2 376.5,285.1 380.5,282.2 384.5,278.8 388.5,272.6 392.5,267.2 396.5,262.4 400.5,257.6 404.5,252.8 408.5,245.1 412.5,238 416.5,227.4 420.5,216.8 424.5,207.2 428.5,194.7 432.5,182.2 436.5,169.2 440.5,157.3 444.5,146.6 448.5,136.3 452.5,126.1 456.5,117 460.5,107.4 464.5,101.4 468.5,97.8 472.5,96.6 476.5,93.3 480.5,90.2 484.5,93.1 488.5,98 492.5,103.9 496.5,112.3 500.5,118.9 504.5,125.9 508.5,131.1 512.5,134.9 516.5,140.2 520.5,145.6 524.5,149 528.5,154.1 532.5,164.4 536.5,176.2 540.5,184.5 544.5,189.7 548.5,191.6 552.5,189.7 556.5,191 560.5,195.7 564.5,202.6 568.5,214 572.5,225.4 576.5,234.4 580.5,246.6 584.5,260.5 588.5,268.2 592.5,275.8 596.5,281.7 600.5,287.3 604.5,295.8 608.5,301.6 612.5,306.5 616.5,307.8 620.5,306.9 624.5,306.8 628.5,313.8 632.5,324.5 636.5,334.2 640.5,343.2 644.5,352.9 648.5,360.1 652.5,370.3 656.5,382.3 660.5,390.9 664.5,398.1 668.5,406.4 672.5,414.3 676.5,424.2 680.5,424.7 684.5,418.2 688.5,407.5 692.5,396.4 696.5,386.6 700.5,376.8 704.5,372.5 708.5,367.3 712.5,361.8 716.5,356.6 720.5,356.7 724.5,358.5 728.5,360.5 732.5,361.6 736.5,367.3 740.5,371 744.5,377 748.5,378.5 752.5,374.6 756.5,373 760.5,368.4 764.5,365 768.5,359.1 772.5,357.9 776.5,360.9 780.5,360.9 784.5,368.3 788.5,372.8 792.5,377.6 796.5,384.7 800.5,392.4 804.5,404.5 808.5,420 812.5,430.6 816.5,442 820.5,450.2 824.5,460 828.5,466.6 832.5,467.2 836.5,470 840.5,462.8 844.5,457.9 848.5,458.3 852.5,458.9 856.5,454.6 860.5,448.6 864.5,441 868.5,434.9 872.5,424.2 876.5,416.2 880.5,408.5 884.5,404 888.5,404.4 892.5,399.4 896.5,395.9 900.5,392.9 904.5,381.8 908.5,370.3 912.5,361.3 916.5,355.5 920.5,349.6 924.5,349.2 928.5,347.8 932.5,345.8 936.5,341.9 940.5,338 944.5,331.3 948.5,328.1 952.5,327 956.5,328.5 960.5,329.2 964.5,328.1 968.5,330 972.5,329.9 976.5,325.8 980.5,322 984.5,319.6 988.5,316.2 992.5,317.5 996.5,316.9 1000.5,314.7 1004.5,314 1008.5,311.9 1012.5,305.7 1016.5,301.9 1020.5,298.9 1024.5,294.5 1028.5,289.7 1032.5,291.8 1036.5,295.1 1040.5,302.3 1044.5,310.5 1048.5,316 1052.5,318.7 1056.5,321.6 1060.5,321.6 1064.5,320.6 1068.5,321.7 1072.5,323.3 1076.5,325.9 1080.5,331.3 1084.5,338.8 1088.5,344 1092.5,345.1 1096.5,343.2 1100.5,338.5 1104.5,334.6 1108.5,331.3 1112.5,326.9 1116.5,323.9 1120.5,324.9 1124.5,325.9 1128.5,327.8" fill="none" stroke="#ff0000" stroke-width="1"/>
<polyline points="4.5,301 8.5,307.3 12.5,312.5 16.5,318.7 20.5,327.5 24.5,333.6 28.5,332.6 32.5,341.4 36.5,343.1 40.5,356.9 44.5,372.7 48.5,377.4 52.5,374.1 56.5,383.1 60.5,384.2 64.5,384.2 68.5,389.8 72.5,389.8 76.5,400.5 80.5,406.7 84.5,410.1 88.5,412.9 92.5,416.9 96.5,406.8 100.5,395.1 104.5,369.8 108.5,356.6 112.5,342.9 116.5,326.2 120.5,308.1 124.5,298.8 128.5,292.4 132.5,293.9 136.5,296.7 140.5,301.6 144.5,305 148.5,308.6 152.5,308.9 156.5,309.5 160.5,306 164.5,299.3 168.5,289.3 172.5,280 176.5,269.6 180.5,263 184.5,257.5 188.5,247.1 192.5,237.1 196.5,225.7 200.5,222.6 204.5,219.8 208.5,213.9 212.5,207.7 216.5,211.3 220.5,218.4 224.5,228.3 228.5,234.2 232.5,240.2 236.5,245.8 240.5,251.4 244.5,252.3 248.5,256.1 252.5,258.1 256.5,259.7 260.5,260.7 264.5,255.4 268.5,249.9 272.5,237 276.5,224.4 280.5,213.6 284.5,199.4 288.5,189.1 292.5,190.1 296.5,190.9 300.5,201.3 304.5,207.4 308.5,216 312.5,230.1 316.5,250.4 320.5,264.9 324.5,276.3 328.5,286.8 332.5,299.2 336.5,308.1 340.5,313.1 344.5,308.5 348.5,303.5 352.5,302.4 356.5,295.9 360.5,288.6 364.5,284.6 368.5,278.2 372.5,271.9 376.5,266.8 380.5,262.1 384.5,261.7 388.5,256.7 392.5,249.8 396.5,246.5 400.5,243.2 404.5,238.8 408.5,228.1 412.5,214.4 416.5,198.1 420.5,183.9 424.5,168 428.5,146.1 432.5,125.6 436.5,110.4 440.5,100.2 444.5,95.2 448.5,88.7 452.5,84.3 456.5,87.9 460.5,89.1 464.5,92.4 468.5,95.4 472.5,98 476.5,97.9 480.5,96.1 484.5,98.4 488.5,106.9 492.5,115.4 496.5,129.2 500.5,139.7 504.5,154 508.5,166 512.5,171.4 516.5,173.6 520.5,175.7 524.5,168.8 528.5,168.4 532.5,174.9 536.5,186.4 540.5,197.5 544.5,205.8 548.5,207.5 552.5,210.6 556.5,213.5 560.5,216.5 564.5,218.9 568.5,230.6 572.5,245 576.5,261.2 580.5,282.5 584.5,307.5 588.5,320 592.5,332.6 596.5,332.8 600.5,329.6 604.5,330.4 608.5,320.6 612.5,305.5 616.5,295.5 620.5,281.2 624.5,280.8 628.5,298 632.5,318.7 636.5,347.9 640.5,381 644.5,410.2 648.5,439 652.5,459.9 656.5,466.6 660.5,463 664.5,448.4 668.5,431.9 672.5,418.4 676.5,409.4 680.5,389.5 684.5,369.9 688.5,351.9 692.5,344.3 696.5,341.3 700.5,335.1 704.5,335.6 708.5,345.1 712.5,353.6 716.5,361.3 720.5,369.1 724.5,375.7 728.5,385.9 732.5,387.6 736.5,389.5 740.5,388.4 744.5,392.8 748.5,387.9 752.5,373.4 756.5,360.1 760.5,349.3 764.5,340.5 768.5,329.8 772.5,323.1 776.5,334 780.5,348.3 784.5,376.6 788.5,396.4 792.5,414.7 796.5,439.6 800.5,461.6 804.5,475 808.5,491.7 812.5,484.6 816.5,487.6 820.5,485.7 824.5,480.4 828.5,471.5 832.5,459.4 836.5,448.4 840.5,441 844.5,428.3 848.5,430.9 852.5,437.4 856.5,437.7 860.5,437.9 864.5,433.7 868.5,428.9 872.5,420.1 876.5,401.5 880.5,379.6 884.5,370.4 888.5,370.9 892.5,365.1 896.5,362.9 900.5,365.8 904.5,362 908.5,360.9 912.5,352.3 916.5,340.1 920.5,334.1 924.5,335.5 928.5,329.8 932.5,329.6 936.5,322.8 940.5,323.7 944.5,322.5 948.5,322 952.5,318.5 956.5,327.1 960.5,328.9 964.5,333.4 968.5,336.3 972.5,337.2 976.5,329.6 980.5,325.4 984.5,312.1 988.5,303.6 992.5,301.5 996.5,297.5 1000.5,292.1 1004.5,298.5 1008.5,298.4 1012.5,299.2 1016.5,300.2 1020.5,296.3 1024.5,291.5 1028.5,287.3 1032.5,285.1 1036.5,291.9 1040.5,305.4 1044.5,320.7 1048.5,335.7 1052.5,345.9 1056.5,355.9 1060.5,358.1 1064.5,349.3 1068.5,338.1 1072.5,325.9 1076.5,316 1080.5,316.7 1084.5,321.7 1088.5,330 1092.5,340.9 1096.5,348.2 1100.5,351.1 1104.5,353.2 1108.5,345.9 1112.5,332.2 1116.5,317.8 1120.5,308.9 1124.5,303.6 1128.5,304.6" fill="none" stroke="#0000cd" stroke-width="1"/>
</g>
<g shape-rendering="crispEdges">
<rect x="4" y="96" width="1415" height="3" fill="#ff0000"/>
<rect x="4" y="200" width="1415" height="3" fill="#ff0000"/>
<rect x="4" y="296" width="1415" height="3" fill="#00ff00"/>
<rect x="4" y="426" width="1415" height="3" fill="#0000ff"/>
<rect x="4" y="512" width="1415" height="3" fill="#0000ff"/>
<rect x="4" y="612" width="1" height="11" fill="#c0c0c0"/>
<rect x="8" y="612" width="1" height="11" fill="#c0c0c0"/>
<rect x="12" y="612" width="1" height="10" fill="#c0c0c0"/>
<rect x="16" y="612" width="1" height="10" fill="#c0c0c0"/>
<rect x="20" y="612" width="1" height="11" fill="#c0c0c0"/>
<rect x="24" y="612" width="1" height="15" fill="#c0c0c0"/>
<rect x="28" y="612" width="1" height="15" fill="#c0c0c0"/>
<rect x="32" y="612" width="1" height="15" fill="#c0c0c0"/>
<rect x="36" y="612" width="1" height="17" fill="#c0c0c0"/>
<rect x="40" y="612" width="1" height="19" fill="#c0c0c0"/>
<rect x="44" y="612" width="1" height="21" fill="#c0c0c0"/>
<rect x="48" y="612" width="1" height="23" fill="#c0c0c0"/>
<rect x="52" y="612" width="1" height="21" fill="#c0c0c0"/>
<rect x="56" y="612" width="1" height="20" fill="#c0c0c0"/>
<rect x="60" y="612" width="1" height="21" fill="#c0c0c0"/>
<rect x="64" y="612" width="1" height="21" fill="#c0c0c0"/>
<rect x="68" y="612" width="1" height="22" fill="#c0c0c0"/>
<rect x="72" y="612" width="1" height="22" fill="#c0c0c0"/>
<rect x="76" y="612" width="1" height="27" fill="#c0c0c0"/>
<rect x="80" y="612" width="1" height="26" fill="#c0c0c0"/>
<rect x="84" y="612" width="1" height="23" fill="#c0c0c0"/>
<rect x="88" y="612" width="1" height="21" fill="#c0c0c0"/>
<rect x="92" y="612" width="1" height="17" fill="#c0c0c0"/>
<rect x="96" y="612" width="1" height="17" fill="#c0c0c0"/>
<rect x="100" y="612" width="1" height="12" fill="#c0c0c0"/>
<rect x="104" y="612" width="1" height="6" fill="#c0c0c0"/>
<rect x="112" y="607" width="1" height="5" fill="#c0c0c0"/>
<rect x="116" y="602" width="1" height="10" fill="#c0c0c0"/>
<rect x="120" y="599" width="1" height="13" fill="#c0c0c0"/>
<rect x="124" y="598" width="1" height="14" fill="#c0c0c0"/>
<rect x="128" y="597" width="1" height="15" fill="#c0c0c0"/>
<rect x="132" y="598" width="1" height="14" fill="#c0c0c0"/>
<rect x="136" y="600" width="1" height="12" fill="#c0c0c0"/>
<rect x="140" y="602" width="1" height="10" fill="#c0c0c0"/>
<rect x="144" y="601" width="1" height="11" fill="#c0c0c0"/>
<rect x="148" y="600" width="1" height="12" fill="#c0c0c0"/>
<rect x="152" y="601" width="1" height="11" fill="#c0c0c0"/>
<rect x="156" y="600" width="1" height="12" fill="#c0c0c0"/>
<rect x="160" y="599" width="1" height="13" fill="#c0c0c0"/>
<rect x="164" y="598" width="1" height="14" fill="#c0c0c0"/>
<rect x="168" y="597" width="1" height="15" fill="#c0c0c0"/>
<rect x="172" y="593" width="1" height="19" fill="#c0c0c0"/>
<rect x="176" y="590" width="1" height="22" fill="#c0c0c0"/>
<rect x="180" y="590" width="1" height="22" fill="#c0c0c0"/>
<rect x="184" y="591" width="1" height="21" fill="#c0c0c0"/>
<rect x="188" y="590" width="1" height="22" fill="#c0c0c0"/>
<rect x="192" y="586" width="1" height="26" fill="#c0c0c0"/>
<rect x="196" y="583" width="1" height="29" fill="#c0c0c0"/>
<rect x="200" y="583" width="1" height="29" fill="#c0c0c0"/>
<rect x="204" y="583" width="1" height="29" fill="#c0c0c0"/>
<rect x="208" y="584" width="1" height="28" fill="#c0c0c0"/>
<rect x="212" y="585" width="1" height="27" fill="#c0c0c0"/>
<rect x="216" y="587" width="1" height="25" fill="#c0c0c0"/>
<rect x="220" y="591" width="1" height="21" fill="#c0c0c0"/>
<rect x="224" y="594" width="1" height="18" fill="#c0c0c0"/>
<rect x="228" y="596" width="1" height="16" fill="#c0c0c0"/>
<rect x="232" y="598" width="1" height="14" fill="#c0c0c0"/>
<rect x="236" y="600" width="1" height="12" fill="#c0c0c0"/>
<rect x="240" y="602" width="1" height="10" fill="#c0c0c0"/>
<rect x="244" y="604" width="1" height="8" fill="#c0c0c0"/>
<rect x="248" y="606" width="1" height="6" fill="#c0c0c0"/>
<rect x="252" y="608" width="1" height="4" fill="#c0c0c0"/>
<rect x="256" y="608" width="1" height="4" fill="#c0c0c0"/>
<rect x="260" y="609" width="1" height="3" fill="#c0c0c0"/>
<rect x="264" y="606" width="1" height="6" fill="#c0c0c0"/>
<rect x="268" y="603" width="1" height="9" fill="#c0c0c0"/>
<rect x="272" y="600" width="1" height="12" fill="#c0c0c0"/>
<rect x="276" y="598" width="1" height="14" fill="#c0c0c0"/>
<rect x="280" y="596" width="1" height="16" fill="#c0c0c0"/>
<rect x="284" y="594" width="1" height="18" fill="#c0c0c0"/>
<rect x="288" y="593" width="1" height="19" fill="#c0c0c0"/>
<rect x="292" y="594" width="1" height="18" fill="#c0c0c0"/>
<rect x="296" y="597" width="1" height="15" fill="#c0c0c0"/>
<rect x="300" y="600" width="1" height="12" fill="#c0c0c0"/>
<rect x="304" y="603" width="1" height="9" fill="#c0c0c0"/>
<rect x="308" y="606" width="1" height="6" fill="#c0c0c0"/>
<rect x="312" y="610" width="1" height="2" fill="#c0c0c0"/>
<rect x="316" y="612" width="1" height="5" fill="#c0c0c0"/>
<rect x="320" y="612" width="1" height="10" fill="#c0c0c0"/>
<rect x="324" y="612" width="1" height="12" fill="#c0c0c0"/>
<rect x="328" y="612" width="1" height="13" fill="#c0c0c0"/>
<rect x="332" y="612" width="1" height="16" fill="#c0c0c0"/>
<rect x="336" y="612" width="1" height="17" fill="#c0c0c0"/>
<rect x="340" y="612" width="1" height="17" fill="#c0c0c0"/>
<rect x="344" y="612" width="1" height="15" fill="#c0c0c0"/>
<rect x="348" y="612" width="1" height="15" fill="#c0c0c0"/>
<rect x="352" y="612" width="1" height="13" fill="#c0c0c0"/>
<rect x="356" y="612" width="1" height="11" fill="#c0c0c0"/>
<rect x="360" y="612" width="1" height="10" fill="#c0c0c0"/>
<rect x="364" y="612" width="1" height="7" fill="#c0c0c0"/>
<rect x="368" y="612" width="1" height="5" fill="#c0c0c0"/>
<rect x="372" y="612" width="1" height="3" fill="#c0c0c0"/>
<rect x="376" y="612" width="1" height="2" fill="#c0c0c0"/>
<rect x="388" y="610" width="1" height="2" fill="#c0c0c0"/>
<rect x="392" y="608" width="1" height="4" fill="#c0c0c0"/>
<rect x="396" y="607" width="1" height="5" fill="#c0c0c0"/>
<rect x="400" y="606" width="1" height="6" fill="#c0c0c0"/>
<rect x="404" y="604" width="1" height="8" fill="#c0c0c0"/>
<rect x="408" y="601" width="1" height="11" fill="#c0c0c0"/>
<rect x="412" y="597" width="1" height="15" fill="#c0c0c0"/>
<rect x="416" y="591" width="1" height="21" fill="#c0c0c0"/>
<rect x="420" y="587" width="1" height="25" fill="#c0c0c0"/>
<rect x="424" y="583" width="1" height="29" fill="#c0c0c0"/>
<rect x="428" y="578" width="1" height="34" fill="#c0c0c0"/>
<rect x="432" y="575" width="1" height="37" fill="#c0c0c0"/>
<rect x="436" y="572" width="1" height="40" fill="#c0c0c0"/>
<rect x="440" y="571" width="1" height="41" fill="#c0c0c0"/>
<rect x="444" y="571" width="1" height="41" fill="#c0c0c0"/>
<rect x="448" y="572" width="1" height="40" fill="#c0c0c0"/>
<rect x="452" y="572" width="1" height="40" fill="#c0c0c0"/>
<rect x="456" y="574" width="1" height="38" fill="#c0c0c0"/>
<rect x="460" y="576" width="1" height="36" fill="#c0c0c0"/>
<rect x="464" y="578" width="1" height="34" fill="#c0c0c0"/>
<rect x="468" y="580" width="1" height="32" fill="#c0c0c0"/>
<rect x="472" y="582" width="1" height="30" fill="#c0c0c0"/>
<rect x="476" y="582" width="1" height="30" fill="#c0c0c0"/>
<rect x="480" y="583" width="1" height="29" fill="#c0c0c0"/>
<rect x="484" y="586" width="1" height="26" fill="#c0c0c0"/>
<rect x="488" y="591" width="1" height="21" fill="#c0c0c0"/>
<rect x="492" y="596" width="1" height="16" fill="#c0c0c0"/>
<rect x="496" y="604" width="1" height="8" fill="#c0c0c0"/>
<rect x="500" y="608" width="1" height="4" fill="#c0c0c0"/>
<rect x="516" y="612" width="1" height="2" fill="#c0c0c0"/>
<rect x="520" y="612" width="1" height="2" fill="#c0c0c0"/>
<rect x="524" y="612" width="1" height="3" fill="#c0c0c0"/>
<rect x="528" y="612" width="1" height="3" fill="#c0c0c0"/>
<rect x="532" y="612" width="1" height="9" fill="#c0c0c0"/>
<rect x="536" y="612" width="1" height="12" fill="#c0c0c0"/>
<rect x="540" y="612" width="1" height="15" fill="#c0c0c0"/>
<rect x="544" y="612" width="1" height="17" fill="#c0c0c0"/>
<rect x="548" y="612" width="1" height="15" fill="#c0c0c0"/>
<rect x="552" y="612" width="1" height="14" fill="#c0c0c0"/>
<rect x="556" y="612" width="1" height="13" fill="#c0c0c0"/>
<rect x="560" y="612" width="1" height="15" fill="#c0c0c0"/>
<rect x="564" y="612" width="1" height="18" fill="#c0c0c0"/>
<rect x="568" y="612" width="1" height="23" fill="#c0c0c0"/>
<rect x="572" y="612" width="1" height="29" fill="#c0c0c0"/>
<rect x="576" y="612" width="1" height="31" fill="#c0c0c0"/>
<rect x="580" y="612" width="1" height="34" fill="#c0c0c0"/>
<rect x="584" y="612" width="1" height="39" fill="#c0c0c0"/>
<rect x="588" y="612" width="1" height="40" fill="#c0c0c0"/>
<rect x="592" y="612" width="1" height="41" fill="#c0c0c0"/>
<rect x="596" y="612" width="1" height="39" fill="#c0c0c0"/>
<rect x="600" y="612" width="1" height="36" fill="#c0c0c0"/>
<rect x="604" y="612" width="1" height="33" fill="#c0c0c0"/>
<rect x="608" y="612" width="1" height="29" fill="#c0c0c0"/>
<rect x="612" y="612" width="1" height="25" fill="#c0c0c0"/>
<rect x="616" y="612" width="1" height="21" fill="#c0c0c0"/>
<rect x="620" y="612" width="1" height="17" fill="#c0c0c0"/>
<rect x="624" y="612" width="1" height="18" fill="#c0c0c0"/>
<rect x="628" y="612" width="1" height="26" fill="#c0c0c0"/>
<rect x="632" y="612" width="1" height="33" fill="#c0c0c0"/>
<rect x="636" y="612" width="1" height="41" fill="#c0c0c0"/>
<rect x="640" y="612" width="1" height="47" fill="#c0c0c0"/>
<rect x="644" y="612" width="1" height="51" fill="#c0c0c0"/>
<rect x="648" y="612" width="1" height="51" fill="#c0c0c0"/>
<rect x="652" y="612" width="1" height="51" fill="#c0c0c0"/>
<rect x="656" y="612" width="1" height="51" fill="#c0c0c0"/>
<rect x="660" y="612" width="1" height="47" fill="#c0c0c0"/>
<rect x="664" y="612" width="1" height="41" fill="#c0c0c0"/>
<rect x="668" y="612" width="1" height="37" fill="#c0c0c0"/>
<rect x="672" y="612" width="1" height="32" fill="#c0c0c0"/>
<rect x="676" y="612" width="1" height="29" fill="#c0c0c0"/>
<rect x="680" y="612" width="1" height="21" fill="#c0c0c0"/>
<rect x="684" y="612" width="1" height="15" fill="#c0c0c0"/>
<rect x="688" y="612" width="1" height="10" fill="#c0c0c0"/>
<rect x="692" y="612" width="1" height="5" fill="#c0c0c0"/>
<rect x="696" y="612" width="1" height="4" fill="#c0c0c0"/>
<rect x="700" y="612" width="1" height="2" fill="#c0c0c0"/>
<rect x="704" y="612" width="1" height="4" fill="#c0c0c0"/>
<rect x="708" y="612" width="1" height="6" fill="#c0c0c0"/>
<rect x="712" y="612" width="1" height="7" fill="#c0c0c0"/>
<rect x="716" y="612" width="1" height="7" fill="#c0c0c0"/>
<rect x="720" y="612" width="1" height="7" fill="#c0c0c0"/>
<rect x="724" y="612" width="1" height="8" fill="#c0c0c0"/>
<rect x="728" y="612" width="1" height="10" fill="#c0c0c0"/>
<rect x="732" y="612" width="1" height="11" fill="#c0c0c0"/>
<rect x="736" y="612" width="1" height="11" fill="#c0c0c0"/>
<rect x="740" y="612" width="1" height="10" fill="#c0c0c0"/>
<rect x="744" y="612" width="1" height="8" fill="#c0c0c0"/>
<rect x="748" y="612" width="1" height="5" fill="#c0c0c0"/>
<rect x="756" y="608" width="1" height="4" fill="#c0c0c0"/>
<rect x="760" y="608" width="1" height="4" fill="#c0c0c0"/>
<rect x="764" y="606" width="1" height="6" fill="#c0c0c0"/>
<rect x="768" y="604" width="1" height="8" fill="#c0c0c0"/>
<rect x="772" y="604" width="1" height="8" fill="#c0c0c0"/>
<rect x="784" y="612" width="1" height="11" fill="#c0c0c0"/>
<rect x="788" y="612" width="1" height="15" fill="#c0c0c0"/>
<rect x="792" y="612" width="1" height="19" fill="#c0c0c0"/>
<rect x="796" y="612" width="1" height="23" fill="#c0c0c0"/>
<rect x="800" y="612" width="1" height="26" fill="#c0c0c0"/>
<rect x="804" y="612" width="1" height="29" fill="#c0c0c0"/>
<rect x="808" y="612" width="1" height="33" fill="#c0c0c0"/>
<rect x="812" y="612" width="1" height="31" fill="#c0c0c0"/>
<rect x="816" y="612" width="1" height="31" fill="#c0c0c0"/>
<rect x="820" y="612" width="1" height="26" fill="#c0c0c0"/>
<rect x="824" y="612" width="1" height="25" fill="#c0c0c0"/>
<rect x="828" y="612" width="1" height="21" fill="#c0c0c0"/>
<rect x="832" y="612" width="1" height="17" fill="#c0c0c0"/>
<rect x="836" y="612" width="1" height="16" fill="#c0c0c0"/>
<rect x="840" y="612" width="1" height="12" fill="#c0c0c0"/>
<rect x="844" y="612" width="1" height="8" fill="#c0c0c0"/>
<rect x="848" y="612" width="1" height="10" fill="#c0c0c0"/>
<rect x="852" y="612" width="1" height="12" fill="#c0c0c0"/>
<rect x="856" y="612" width="1" height="11" fill="#c0c0c0"/>
<rect x="860" y="612" width="1" height="9" fill="#c0c0c0"/>
<rect x="864" y="612" width="1" height="7" fill="#c0c0c0"/>
<rect x="872" y="607" width="1" height="5" fill="#c0c0c0"/>
<rect x="876" y="603" width="1" height="9" fill="#c0c0c0"/>
<rect x="880" y="599" width="1" height="13" fill="#c0c0c0"/>
<rect x="884" y="598" width="1" height="14" fill="#c0c0c0"/>
<rect x="888" y="602" width="1" height="10" fill="#c0c0c0"/>
<rect x="892" y="600" width="1" height="12" fill="#c0c0c0"/>
<rect x="896" y="599" width="1" height="13" fill="#c0c0c0"/>
<rect x="900" y="598" width="1" height="14" fill="#c0c0c0"/>
<rect x="904" y="595" width="1" height="17" fill="#c0c0c0"/>
<rect x="908" y="593" width="1" height="19" fill="#c0c0c0"/>
<rect x="912" y="592" width="1" height="20" fill="#c0c0c0"/>
<rect x="916" y="591" width="1" height="21" fill="#c0c0c0"/>
<rect x="920" y="592" width="1" height="20" fill="#c0c0c0"/>
<rect x="924" y="594" width="1" height="18" fill="#c0c0c0"/>
<rect x="928" y="593" width="1" height="19" fill="#c0c0c0"/>
<rect x="932" y="592" width="1" height="20" fill="#c0c0c0"/>
<rect x="936" y="590" width="1" height="22" fill="#c0c0c0"/>
<rect x="940" y="589" width="1" height="23" fill="#c0c0c0"/>
<rect x="944" y="590" width="1" height="22" fill="#c0c0c0"/>
<rect x="948" y="593" width="1" height="19" fill="#c0c0c0"/>
<rect x="952" y="596" width="1" height="16" fill="#c0c0c0"/>
<rect x="956" y="600" width="1" height="12" fill="#c0c0c0"/>
<rect x="960" y="600" width="1" height="12" fill="#c0c0c0"/>
<rect x="964" y="599" width="1" height="13" fill="#c0c0c0"/>
<rect x="968" y="600" width="1" height="12" fill="#c0c0c0"/>
<rect x="972" y="602" width="1" height="10" fill="#c0c0c0"/>
<rect x="976" y="598" width="1" height="14" fill="#c0c0c0"/>
<rect x="980" y="596" width="1" height="16" fill="#c0c0c0"/>
<rect x="984" y="595" width="1" height="17" fill="#c0c0c0"/>
<rect x="988" y="594" width="1" height="18" fill="#c0c0c0"/>
<rect x="992" y="595" width="1" height="17" fill="#c0c0c0"/>
<rect x="996" y="596" width="1" height="16" fill="#c0c0c0"/>
<rect x="1000" y="598" width="1" height="14" fill="#c0c0c0"/>
<rect x="1004" y="599" width="1" height="13" fill="#c0c0c0"/>
<rect x="1008" y="600" width="1" height="12" fill="#c0c0c0"/>
<rect x="1012" y="600" width="1" height="12" fill="#c0c0c0"/>
<rect x="1016" y="598" width="1" height="14" fill="#c0c0c0"/>
<rect x="1020" y="598" width="1" height="14" fill="#c0c0c0"/>
<rect x="1024" y="597" width="1" height="15" fill="#c0c0c0"/>
<rect x="1028" y="596" width="1" height="16" fill="#c0c0c0"/>
<rect x="1032" y="597" width="1" height="15" fill="#c0c0c0"/>
<rect x="1036" y="604" width="1" height="8" fill="#c0c0c0"/>
<rect x="1044" y="612" width="1" height="3" fill="#c0c0c0"/>
<rect x="1048" y="612" width="1" height="6" fill="#c0c0c0"/>
<rect x="1052" y="612" width="1" height="7" fill="#c0c0c0"/>
<rect x="1056" y="612" width="1" height="6" fill="#c0c0c0"/>
<rect x="1060" y="612" width="1" height="4" fill="#c0c0c0"/>
<rect x="1076" y="610" width="1" height="2" fill="#c0c0c0"/>
<rect x="1084" y="612" width="1" height="2" fill="#c0c0c0"/>
<rect x="1088" y="612" width="1" height="5" fill="#c0c0c0"/>
<rect x="1092" y="612" width="1" height="9" fill="#c0c0c0"/>
<rect x="1096" y="612" width="1" height="9" fill="#c0c0c0"/>
<rect x="1100" y="612" width="1" height="6" fill="#c0c0c0"/>
<rect x="1104" y="612" width="1" height="3" fill="#c0c0c0"/>
<rect x="1112" y="609" width="1" height="3" fill="#c0c0c0"/>
<rect x="1116" y="607" width="1" height="5" fill="#c0c0c0"/>
<rect x="1120" y="606" width="1" height="6" fill="#c0c0c0"/>
<rect x="1124" y="607" width="1" height="5" fill="#c0c0c0"/>
<rect x="1128" y="608" width="1" height="4" fill="#c0c0c0"/>
<polyline points="4.5,622.5 17.5,620.75 30,621.5 40,625 50,628.25 65,630 77.5,633.75 100,632.75 107.5,629 115,622 122.5,614.5 130,607 136.25,601.5 142.5,599.5 155,598.5 167.5,598.5 175,595.75 185,594 195,589.5 205,586.5 215,585.25 225,585.75 235,589.5 245,594.5 255,600 265,604 275,604.5 282.5,602.5 290,599.5 300,597.5 310,597.75 317.5,601.5 325,607 332.5,613.25 340,619.5 347.5,623.25 355,625.25 360,626.5 370,623.25 380,619.5 390,615.25 400,612 410,607.75 420,600.75 427.5,594.5 435,588.25 442.5,582 450,576.5 456.25,573.25 462.5,572.5 470,573.75 477.5,575.75 485,579 492.5,584.5 500,590 507.5,595.75 515,602 522.5,607.75 530,612 537.5,616.5 545,619.5 555,622 562.5,624.5 570,628.25 577.5,632 585,635.75 592.5,641.5 598.75,645.75 606.25,647.5 615,645.75 622.5,641.5 630,638.25 637.5,639 645,643.25 652.5,649.5 660,656.5 666.25,658.25 675,656.5 682.5,650 690,642 697.5,632 705,624.5 712.5,620 718.75,618 720,617 730,618.25 740,620 750,619.5 757.5,617.5 765,615 772.5,609.5 780,608.5 787.5,609 795,614.5 802.5,622 810,629.5 816.25,635 822.5,637.5 830,638.25 837.5,636.5 845,631.5 852.5,627.5 860,623.25 867.5,620.75 875,616.5 882.5,612 890,607 897.5,603.25 905,599 912.5,596.5 920,595 927.5,594 935,591.5 942.5,590.75 950,590.75 957.5,592.5 965,593.25 972.5,595.25 980,597 990,597 998.75,596.5 1000,596.5 1015,596.5 1035,597.5 1042.5,600 1050,604 1057.5,608.25 1062.5,612 1070,614 1080,614.5 1090,613.75 1100,615 1110,615.25 1117.5,614.5 1123.75,612 1128.75,611" fill="none" stroke="#ff0000" stroke-width="1" mask="url(#dm)"/>
<line x1="5" y1="710.5" x2="1419" y2="710.5" stroke="#c0c0c0" stroke-dasharray="3 3"/>
<line x1="5" y1="761.5" x2="1419" y2="761.5" stroke="#c0c0c0" stroke-dasharray="3 3"/>
<polyline points="4.5,739.25 8.5,752.5 12.5,735 16.5,736.75 20.5,749.25 24.5,748 28.5,734.25 32.5,743.75 36.5,746 40.5,748.5 44.5,751.25 48.5,749.25 52.5,737.5 56.5,740 60.5,741 64.5,742.5 68.5,751 72.5,748.5 76.5,756 80.5,739.5 84.5,739.25 88.5,739.5 92.5,743 96.5,734.25 100.5,730 104.5,726 108.5,724.25 112.5,723.5 116.5,722 120.5,722.5 124.5,727 128.5,726 132.5,730.5 136.5,732 140.5,733 144.5,728 148.5,730 152.5,730 156.5,727.5 160.5,727 164.5,722 168.5,718.5 172.5,714.25 176.5,714.5 180.5,721.75 184.5,724.25 188.5,715.5 192.5,711.75 196.5,708 200.5,720 204.5,720.5 208.5,721 212.5,721.5 216.5,730.5 220.5,733.5 224.5,732.5 228.5,734.25 232.5,734.5 236.5,734.5 240.5,735 244.5,732.5 248.5,743 252.5,736 256.5,738 260.5,735.5 264.5,721.75 268.5,723 272.5,710.5 276.5,721 280.5,720 284.5,716.75 288.5,724.25 292.5,734 296.5,734.5 300.5,737 304.5,737.5 308.5,740 312.5,745.5 316.5,758 320.5,756 324.5,749.25 328.5,750.5 332.5,753.5 336.5,748 340.5,746 344.5,745 348.5,742.5 352.5,743.75 356.5,732.5 360.5,736 364.5,738 368.5,731.5 372.5,731.5 376.5,730.5 380.5,733.5 384.5,732.5 388.5,725.5 392.5,723.5 396.5,723.5 400.5,725.5 404.5,721 408.5,713 412.5,705.5 416.5,700.5 420.5,703 424.5,702 428.5,696.75 432.5,696.5 436.5,698.5 440.5,702.25 444.5,702.25 448.5,701 452.5,703.5 456.5,712.5 460.5,708.5 464.5,715.5 468.5,721.25 472.5,717.5 476.5,713.5 480.5,712.5 484.5,730.5 488.5,739.25 492.5,745.5 496.5,754.25 500.5,744.25 504.5,745 508.5,740.5 512.5,738.5 516.5,740 520.5,744.25 524.5,737.5 528.5,743 532.5,753 536.5,756 540.5,754.25 544.5,747.5 548.5,740 552.5,737.5 556.5,741 560.5,751.75 564.5,753.5 568.5,761.75 572.5,763.5 576.5,758.5 580.5,762.5 584.5,767.25 588.5,758.5 592.5,759.25 596.5,751.75 600.5,745.5 604.5,746.75 608.5,736.25 612.5,736 616.5,737 620.5,733.5 624.5,746.75 628.5,760.5 632.5,763 636.5,765 640.5,767.25 644.5,760.5 648.5,756.25 652.5,757 656.5,758 660.5,749.25 664.5,737.25 668.5,739.25 672.5,739.5 676.5,740.5 680.5,729.25 684.5,730 688.5,726.25 692.5,727.5 696.5,736.75 700.5,733.5 704.5,742 708.5,742.5 712.5,742.5 716.5,735.5 720.5,736.75 724.5,744.25 728.5,744.25 732.5,743.5 736.5,744.25 740.5,738.5 744.5,739.25 748.5,728 752.5,722 756.5,725 760.5,728.5 764.5,732 768.5,724.5 772.5,733 776.5,745 780.5,746 784.5,759.25 788.5,749.5 792.5,750 796.5,751.5 800.5,753 804.5,754.5 808.5,757 812.5,743.5 816.5,747.5 820.5,742.5 824.5,739.25 828.5,737 832.5,734.5 836.5,739.25 840.5,732 844.5,730.5 848.5,744.25 852.5,746 856.5,736 860.5,733.5 864.5,733 868.5,726 872.5,721.25 876.5,723 880.5,722.5 884.5,728 888.5,738.5 892.5,730.5 896.5,728.25 900.5,728 904.5,722.5 908.5,724 912.5,721.5 916.5,727 920.5,727.5 924.5,734.25 928.5,726 932.5,726.5 936.5,720.75 940.5,728 944.5,730 948.5,730.5 952.5,734.25 956.5,740.25 960.5,732 964.5,728.5 968.5,733.5 972.5,732 976.5,723.5 980.5,731.5 984.5,726.5 988.5,724.5 992.5,730 996.5,731.25 1000.5,730.5 1004.5,734.25 1008.5,733 1012.5,728 1016.5,726 1020.5,725.5 1024.5,726 1028.5,724.5 1032.5,735.5 1036.5,746.25 1040.5,750.5 1044.5,750 1048.5,746.75 1052.5,740.5 1056.5,738 1060.5,734.25 1064.5,729.5 1068.5,729.5 1072.5,729 1076.5,732 1080.5,741.75 1084.5,747.5 1088.5,748.5 1092.5,748.5 1096.5,740.5 1100.5,731.5 1104.5,732.5 1108.5,727.5 1112.5,722.5 1116.5,723.5 1120.5,733 1124.5,734.25 1128.5,735.5" fill="none" stroke="#1e90ff" stroke-width="1"/>
<rect x="3" y="22" width="1417" height="1" fill="#000"/>
<rect x="3" y="562" width="1417" height="1" fill="#000"/>
<rect x="3" y="564" width="1417" height="1" fill="#000"/>
<rect x="3" y="668" width="1417" height="1" fill="#000"/>
<rect x="3" y="670" width="1417" height="1" fill="#000"/>
<rect x="3" y="800" width="1417" height="1" fill="#000"/>
<rect x="3" y="22" width="1" height="779" fill="#000"/>
<rect x="1419" y="22" width="1" height="779" fill="#000"/>
<rect x="3" y="563" width="1417" height="1" fill="#fff"/>
<rect x="3" y="669" width="1417" height="1" fill="#fff"/>
<rect x="1420" y="563" width="43" height="1" fill="#fff"/>
<rect x="3" y="94" width="7" height="7" fill="#ff0000"/>
<rect x="6" y="97" width="1" height="1" fill="#fff"/>
<rect x="1413" y="94" width="7" height="7" fill="#ff0000"/>
<rect x="1416" y="97" width="1" height="1" fill="#fff"/>
<rect x="3" y="198" width="7" height="7" fill="#ff0000"/>
<rect x="6" y="201" width="1" height="1" fill="#fff"/>
<rect x="1413" y="198" width="7" height="7" fill="#ff0000"/>
<rect x="1416" y="201" width="1" height="1" fill="#fff"/>
<rect x="3" y="294" width="7" height="7" fill="#00ff00"/>
<rect x="6" y="297" width="1" height="1" fill="#fff"/>
<rect x="1413" y="294" width="7" height="7" fill="#00ff00"/>
<rect x="1416" y="297" width="1" height="1" fill="#fff"/>
</g>
<g>
<rect x="1420" y="31" width="2" height="1" fill="#000" shape-rendering="crispEdges"/>
<text x="1425.5" y="35" font-size="10" fill="#000" textLength="32.6" lengthAdjust="spacingAndGlyphs" stroke="#000" stroke-width="0.25">1.02570</text>
<rect x="1420" y="64" width="2" height="1" fill="#000" shape-rendering="crispEdges"/>
<text x="1425.5" y="68" font-size="10" fill="#000" textLength="32.6" lengthAdjust="spacingAndGlyphs" stroke="#000" stroke-width="0.25">1.02190</text>
<rect x="1420" y="130" width="2" height="1" fill="#000" shape-rendering="crispEdges"/>
<text x="1425.5" y="134" font-size="10" fill="#000" textLength="32.6" lengthAdjust="spacingAndGlyphs" stroke="#000" stroke-width="0.25">1.01430</text>
<rect x="1420" y="163" width="2" height="1" fill="#000" shape-rendering="crispEdges"/>
<text x="1425.5" y="167" font-size="10" fill="#000" textLength="32.6" lengthAdjust="spacingAndGlyphs" stroke="#000" stroke-width="0.25">1.01050</text>
<rect x="1420" y="196" width="2" height="1" fill="#000" shape-rendering="crispEdges"/>
<text x="1425.5" y="200" font-size="10" fill="#000" textLength="32.6" lengthAdjust="spacingAndGlyphs" stroke="#000" stroke-width="0.25">1.00660</text>
<rect x="1420" y="229" width="2" height="1" fill="#000" shape-rendering="crispEdges"/>
<text x="1425.5" y="233" font-size="10" fill="#000" textLength="32.6" lengthAdjust="spacingAndGlyphs" stroke="#000" stroke-width="0.25">1.00280</text>
<rect x="1420" y="262" width="2" height="1" fill="#000" shape-rendering="crispEdges"/>
<text x="1425.5" y="266" font-size="10" fill="#000" textLength="32.6" lengthAdjust="spacingAndGlyphs" stroke="#000" stroke-width="0.25">0.99900</text>
<rect x="1420" y="295" width="2" height="1" fill="#000" shape-rendering="crispEdges"/>
<text x="1425.5" y="299" font-size="10" fill="#000" textLength="32.6" lengthAdjust="spacingAndGlyphs" stroke="#000" stroke-width="0.25">0.99520</text>
<rect x="1420" y="328" width="2" height="1" fill="#000" shape-rendering="crispEdges"/>
<text x="1425.5" y="332" font-size="10" fill="#000" textLength="32.6" lengthAdjust="spacingAndGlyphs" stroke="#000" stroke-width="0.25">0.99140</text>
<rect x="1420" y="361" width="2" height="1" fill="#000" shape-rendering="crispEdges"/>
<text x="1425.5" y="365" font-size="10" fill="#000" textLength="32.6" lengthAdjust="spacingAndGlyphs" stroke="#000" stroke-width="0.25">0.98760</text>
<rect x="1420" y="394" width="2" height="1" fill="#000" shape-rendering="crispEdges"/>
<text x="1425.5" y="398" font-size="10" fill="#000" textLength="32.6" lengthAdjust="spacingAndGlyphs" stroke="#000" stroke-width="0.25">0.98380</text>
<rect x="1420" y="460" width="2" height="1" fill="#000" shape-rendering="crispEdges"/>
<text x="1425.5" y="464" font-size="10" fill="#000" textLength="32.6" lengthAdjust="spacingAndGlyphs" stroke="#000" stroke-width="0.25">0.97610</text>
<rect x="1420" y="493" width="2" height="1" fill="#000" shape-rendering="crispEdges"/>
<text x="1425.5" y="497" font-size="10" fill="#000" textLength="32.6" lengthAdjust="spacingAndGlyphs" stroke="#000" stroke-width="0.25">0.97230</text>
<rect x="1420" y="526" width="2" height="1" fill="#000" shape-rendering="crispEdges"/>
<text x="1425.5" y="530" font-size="10" fill="#000" textLength="32.6" lengthAdjust="spacingAndGlyphs" stroke="#000" stroke-width="0.25">0.96850</text>
<rect x="1420" y="559" width="2" height="1" fill="#000" shape-rendering="crispEdges"/>
<text x="1425.5" y="563" font-size="10" fill="#000" textLength="32.6" lengthAdjust="spacingAndGlyphs" stroke="#000" stroke-width="0.25">0.96470</text>
<rect x="1421" y="91" width="41" height="11" fill="#ff0000" shape-rendering="crispEdges"/>
<rect x="1420" y="97" width="1" height="1" fill="#ff0000" shape-rendering="crispEdges"/>
<text x="1425.5" y="100" font-size="10" fill="#fff" textLength="32.4" lengthAdjust="spacingAndGlyphs" stroke="#fff" stroke-width="0.25">1.01806</text>
<rect x="1421" y="195" width="41" height="11" fill="#ff0000" shape-rendering="crispEdges"/>
<rect x="1420" y="201" width="1" height="1" fill="#ff0000" shape-rendering="crispEdges"/>
<text x="1425.5" y="204" font-size="10" fill="#fff" textLength="32.4" lengthAdjust="spacingAndGlyphs" stroke="#fff" stroke-width="0.25">1.00606</text>
<rect x="1421" y="291" width="41" height="11" fill="#00ff00" shape-rendering="crispEdges"/>
<rect x="1420" y="297" width="1" height="1" fill="#00ff00" shape-rendering="crispEdges"/>
<text x="1425.5" y="300" font-size="10" fill="#fff" textLength="32.4" lengthAdjust="spacingAndGlyphs" stroke="#fff" stroke-width="0.25">0.99498</text>
<rect x="1421" y="320" width="41" height="11" fill="#000" shape-rendering="crispEdges"/>
<rect x="1420" y="326" width="1" height="1" fill="#000" shape-rendering="crispEdges"/>
<text x="1425.5" y="329" font-size="10" fill="#fff" textLength="32.4" lengthAdjust="spacingAndGlyphs" stroke="#fff" stroke-width="0.25">0.99173</text>
<rect x="1421" y="421" width="41" height="11" fill="#0000ff" shape-rendering="crispEdges"/>
<rect x="1420" y="427" width="1" height="1" fill="#0000ff" shape-rendering="crispEdges"/>
<text x="1425.5" y="430" font-size="10" fill="#fff" textLength="32.4" lengthAdjust="spacingAndGlyphs" stroke="#fff" stroke-width="0.25">0.98000</text>
<rect x="1421" y="507" width="41" height="11" fill="#0000ff" shape-rendering="crispEdges"/>
<rect x="1420" y="513" width="1" height="1" fill="#0000ff" shape-rendering="crispEdges"/>
<text x="1425.5" y="516" font-size="10" fill="#fff" textLength="32.4" lengthAdjust="spacingAndGlyphs" stroke="#fff" stroke-width="0.25">0.97005</text>
<rect x="1420" y="565" width="2" height="1" fill="#000" shape-rendering="crispEdges"/>
<text x="1423.4" y="575" font-size="10" fill="#000" textLength="32.7" lengthAdjust="spacingAndGlyphs" stroke="#000" stroke-width="0.25">0.00613</text>
<rect x="1420" y="611" width="2" height="1" fill="#000" shape-rendering="crispEdges"/>
<text x="1423.4" y="615" font-size="10" fill="#000" textLength="17.6" lengthAdjust="spacingAndGlyphs" stroke="#000" stroke-width="0.25">0.00</text>
<rect x="1420" y="667" width="2" height="1" fill="#000" shape-rendering="crispEdges"/>
<text x="1423.4" y="665" font-size="10" fill="#000" textLength="41.5" lengthAdjust="spacingAndGlyphs" stroke="#000" stroke-width="0.25">-0.007612</text>
<rect x="1420" y="672" width="2" height="1" fill="#000" shape-rendering="crispEdges"/>
<text x="1423.4" y="681" font-size="10" fill="#000" textLength="13.8" lengthAdjust="spacingAndGlyphs" stroke="#000" stroke-width="0.25">100</text>
<rect x="1420" y="710" width="2" height="1" fill="#000" shape-rendering="crispEdges"/>
<text x="1423.4" y="714" font-size="10" fill="#000" textLength="9.3" lengthAdjust="spacingAndGlyphs" stroke="#000" stroke-width="0.25">70</text>
<rect x="1420" y="761" width="2" height="1" fill="#000" shape-rendering="crispEdges"/>
<text x="1423.4" y="765" font-size="10" fill="#000" textLength="9.3" lengthAdjust="spacingAndGlyphs" stroke="#000" stroke-width="0.25">30</text>
<rect x="1420" y="798" width="2" height="1" fill="#000" shape-rendering="crispEdges"/>
<text x="1423.4" y="798" font-size="10" fill="#000" textLength="4.6" lengthAdjust="spacingAndGlyphs" stroke="#000" stroke-width="0.25">0</text>
<rect x="4" y="801" width="1" height="3" fill="#000" shape-rendering="crispEdges"/>
<text x="3.7" y="813.2" font-size="10" fill="#000" textLength="51" lengthAdjust="spacingAndGlyphs" stroke="#000" stroke-width="0.25">19 Dec 2018</text>
<rect x="68" y="801" width="1" height="3" fill="#000" shape-rendering="crispEdges"/>
<text x="67.7" y="813.2" font-size="10" fill="#000" textLength="45" lengthAdjust="spacingAndGlyphs" stroke="#000" stroke-width="0.25">7 Jan 2019</text>
<rect x="132" y="801" width="1" height="3" fill="#000" shape-rendering="crispEdges"/>
<text x="131.7" y="813.2" font-size="10" fill="#000" textLength="49.6" lengthAdjust="spacingAndGlyphs" stroke="#000" stroke-width="0.25">25 Jan 2019</text>
<rect x="196" y="801" width="1" height="3" fill="#000" shape-rendering="crispEdges"/>
<text x="195.7" y="813.2" font-size="10" fill="#000" textLength="51" lengthAdjust="spacingAndGlyphs" stroke="#000" stroke-width="0.25">13 Feb 2019</text>
<rect x="260" y="801" width="1" height="3" fill="#000" shape-rendering="crispEdges"/>
<text x="259.7" y="813.2" font-size="10" fill="#000" textLength="46.5" lengthAdjust="spacingAndGlyphs" stroke="#000" stroke-width="0.25">4 Mar 2019</text>
<rect x="324" y="801" width="1" height="3" fill="#000" shape-rendering="crispEdges"/>
<text x="323.7" y="813.2" font-size="10" fill="#000" textLength="51" lengthAdjust="spacingAndGlyphs" stroke="#000" stroke-width="0.25">22 Mar 2019</text>
<rect x="388" y="801" width="1" height="3" fill="#000" shape-rendering="crispEdges"/>
<text x="387.7" y="813.2" font-size="10" fill="#000" textLength="50" lengthAdjust="spacingAndGlyphs" stroke="#000" stroke-width="0.25">10 Apr 2019</text>
<rect x="452" y="801" width="1" height="3" fill="#000" shape-rendering="crispEdges"/>
<text x="451.7" y="813.2" font-size="10" fill="#000" textLength="50" lengthAdjust="spacingAndGlyphs" stroke="#000" stroke-width="0.25">30 Apr 2019</text>
<rect x="516" y="801" width="1" height="3" fill="#000" shape-rendering="crispEdges"/>
<text x="515.7" y="813.2" font-size="10" fill="#000" textLength="54" lengthAdjust="spacingAndGlyphs" stroke="#000" stroke-width="0.25">19 May 2019</text>
<rect x="580" y="801" width="1" height="3" fill="#000" shape-rendering="crispEdges"/>
<text x="579.7" y="813.2" font-size="10" fill="#000" textLength="44" lengthAdjust="spacingAndGlyphs" stroke="#000" stroke-width="0.25">6 Jun 2019</text>
<rect x="644" y="801" width="1" height="3" fill="#000" shape-rendering="crispEdges"/>
<text x="643.7" y="813.2" font-size="10" fill="#000" textLength="49.6" lengthAdjust="spacingAndGlyphs" stroke="#000" stroke-width="0.25">25 Jun 2019</text>
<rect x="708" y="801" width="1" height="3" fill="#000" shape-rendering="crispEdges"/>
<text x="707.7" y="813.2" font-size="10" fill="#000" textLength="47" lengthAdjust="spacingAndGlyphs" stroke="#000" stroke-width="0.25">14 Jul 2019</text>
<rect x="772" y="801" width="1" height="3" fill="#000" shape-rendering="crispEdges"/>
<text x="771.7" y="813.2" font-size="10" fill="#000" textLength="47" lengthAdjust="spacingAndGlyphs" stroke="#000" stroke-width="0.25">1 Aug 2019</text>
<rect x="836" y="801" width="1" height="3" fill="#000" shape-rendering="crispEdges"/>
<text x="835.7" y="813.2" font-size="10" fill="#000" textLength="52.6" lengthAdjust="spacingAndGlyphs" stroke="#000" stroke-width="0.25">20 Aug 2019</text>
<rect x="900" y="801" width="1" height="3" fill="#000" shape-rendering="crispEdges"/>
<text x="899.7" y="813.2" font-size="10" fill="#000" textLength="46" lengthAdjust="spacingAndGlyphs" stroke="#000" stroke-width="0.25">8 Sep 2019</text>
<rect x="964" y="801" width="1" height="3" fill="#000" shape-rendering="crispEdges"/>
<text x="963.7" y="813.2" font-size="10" fill="#000" textLength="51.5" lengthAdjust="spacingAndGlyphs" stroke="#000" stroke-width="0.25">26 Sep 2019</text>
<rect x="1028" y="801" width="1" height="3" fill="#000" shape-rendering="crispEdges"/>
<text x="1027.7" y="813.2" font-size="10" fill="#000" textLength="49.6" lengthAdjust="spacingAndGlyphs" stroke="#000" stroke-width="0.25">15 Oct 2019</text>
<rect x="1092" y="801" width="1" height="3" fill="#000" shape-rendering="crispEdges"/>
<text x="1091.7" y="813.2" font-size="10" fill="#000" textLength="48.6" lengthAdjust="spacingAndGlyphs" stroke="#000" stroke-width="0.25">3 Nov 2019</text>
<path d="M1130 23 L1139.5 23 L1134.7 28.2Z" fill="#c0c0c0"/>
<path d="M7 33.3 L14 33.3 L10.5 29Z" fill="#000"/>
<text x="19" y="34" font-size="10" fill="#000" textLength="67.5" lengthAdjust="spacingAndGlyphs" stroke="#000" stroke-width="0.25">USDCHF-,Daily</text>
<text x="93" y="34" font-size="10" fill="#000" textLength="32.8" lengthAdjust="spacingAndGlyphs" stroke="#000" stroke-width="0.25">0.99269</text>
<text x="129" y="34" font-size="10" fill="#000" textLength="32.8" lengthAdjust="spacingAndGlyphs" stroke="#000" stroke-width="0.25">0.99281</text>
<text x="165" y="34" font-size="10" fill="#000" textLength="32.8" lengthAdjust="spacingAndGlyphs" stroke="#000" stroke-width="0.25">0.99170</text>
<text x="201" y="34" font-size="10" fill="#000" textLength="32.8" lengthAdjust="spacingAndGlyphs" stroke="#000" stroke-width="0.25">0.99173</text>
<text x="8.3" y="577" font-size="10" fill="#000" textLength="147" lengthAdjust="spacingAndGlyphs" stroke="#000" stroke-width="0.25">MACD(12,26,9) 0.000516 0.000021</text>
<text x="8.3" y="683" font-size="10" fill="#000" textLength="67.3" lengthAdjust="spacingAndGlyphs" stroke="#000" stroke-width="0.25">RSI(14) 49.3343</text>
<text x="6.6" y="10.2" font-size="9.5" fill="#404040" textLength="12.4" lengthAdjust="spacingAndGlyphs">H4</text>
<text x="35.7" y="10.2" font-size="9.5" fill="#404040" textLength="11.6" lengthAdjust="spacingAndGlyphs">D1</text>
<text x="63" y="10.2" font-size="9.5" fill="#404040" textLength="14.2" lengthAdjust="spacingAndGlyphs">W1</text>
<text x="89.7" y="10.2" font-size="9.5" fill="#404040" textLength="14.5" lengthAdjust="spacingAndGlyphs">MN</text>
</g>
<g>
<rect x="5" y="40" width="223" height="68" fill="#fff" shape-rendering="crispEdges"/>
<rect x="7" y="42" width="52" height="25" fill="url(#gb2)" shape-rendering="crispEdges"/>
<rect x="174" y="42" width="52" height="25" fill="url(#gb2)" shape-rendering="crispEdges"/>
<rect x="7" y="66" width="109" height="40" fill="url(#gb2)" shape-rendering="crispEdges"/>
<rect x="118" y="66" width="108" height="40" fill="url(#gb2)" shape-rendering="crispEdges"/>
<rect x="11" y="65" width="44" height="1" fill="#1c1cb0" shape-rendering="crispEdges"/>
<rect x="11" y="66" width="44" height="1" fill="#8c8cff" shape-rendering="crispEdges"/>
<rect x="178" y="65" width="44" height="1" fill="#1c1cb0" shape-rendering="crispEdges"/>
<rect x="178" y="66" width="44" height="1" fill="#8c8cff" shape-rendering="crispEdges"/>
<rect x="61.5" y="42.5" width="110" height="21" fill="#fff" stroke="#a8a8a8" stroke-width="1"/>
<rect x="63" y="44" width="18" height="18" fill="url(#gbtn)" shape-rendering="crispEdges"/>
<rect x="152" y="44" width="18" height="18" fill="url(#gbtn)" shape-rendering="crispEdges"/>
<rect x="82" y="43" width="1" height="20" fill="#b4b4b4" shape-rendering="crispEdges"/>
<rect x="150" y="43" width="1" height="20" fill="#b4b4b4" shape-rendering="crispEdges"/>
<path d="M69 51 L74.5 51 L71.75 54.5Z" fill="#4a5fb4"/>
<path d="M158 54 L163.5 54 L160.75 50.5Z" fill="#4a5fb4"/>
<text x="123.5" y="57" font-size="12.5" fill="#000" textLength="24" lengthAdjust="spacingAndGlyphs">1.00</text>
<text x="19.8" y="58" font-size="12.2" fill="#fff" textLength="25.4" lengthAdjust="spacingAndGlyphs">SELL</text>
<text x="187.4" y="58" font-size="12.2" fill="#fff" textLength="23.6" lengthAdjust="spacingAndGlyphs">BUY</text>
<text x="26.8" y="96.9" font-size="12.1" fill="#fff" textLength="24.2" lengthAdjust="spacingAndGlyphs" font-weight="bold">0.99</text>
<text x="136.6" y="96.9" font-size="12.1" fill="#fff" textLength="24.2" lengthAdjust="spacingAndGlyphs" font-weight="bold">0.99</text>
<text x="56" y="97.2" font-size="34.4" fill="#fff" textLength="32.8" lengthAdjust="spacingAndGlyphs">17</text>
<text x="166.5" y="97.2" font-size="34.4" fill="#fff" textLength="33" lengthAdjust="spacingAndGlyphs">19</text>
<text x="94.4" y="81" font-size="12" fill="#fff" textLength="6.6" lengthAdjust="spacingAndGlyphs" font-weight="bold">3</text>
<text x="205.5" y="81" font-size="12" fill="#fff" textLength="6.4" lengthAdjust="spacingAndGlyphs" font-weight="bold">8</text>
</g>
<g>
<rect x="221" y="822" width="108" height="20" fill="#fff" shape-rendering="crispEdges"/>
<rect x="221" y="823" width="1" height="19" fill="#000" shape-rendering="crispEdges"/>
<rect x="328" y="823" width="1" height="19" fill="#000" shape-rendering="crispEdges"/>
<rect x="221" y="841" width="108" height="1" fill="#000" shape-rendering="crispEdges"/>
<text x="16.5" y="838" font-size="12" fill="#6e6e6e" textLength="84.5" lengthAdjust="spacingAndGlyphs">EURUSD-,Daily</text>
<text x="123" y="838" font-size="12" fill="#6e6e6e" textLength="86" lengthAdjust="spacingAndGlyphs">AUDUSD-,Daily</text>
<text x="233" y="838" font-size="12" fill="#000" textLength="84.5" lengthAdjust="spacingAndGlyphs">USDCHF-,Daily</text>
<text x="340" y="838" font-size="12" fill="#6e6e6e" textLength="86" lengthAdjust="spacingAndGlyphs">USDCAD-,Daily</text>
<text x="449" y="838" font-size="12" fill="#6e6e6e" textLength="88" lengthAdjust="spacingAndGlyphs">USDCNH-,Daily</text>
<text x="560" y="838" font-size="12" fill="#6e6e6e" textLength="97" lengthAdjust="spacingAndGlyphs">EURCHF-,Weekly</text>
<text x="680" y="838" font-size="12" fill="#6e6e6e" textLength="101" lengthAdjust="spacingAndGlyphs">XAUUSD-,Weekly</text>
<text x="804" y="838" font-size="12" fill="#6e6e6e" textLength="73" lengthAdjust="spacingAndGlyphs">GBPUSD-,H1</text>
<text x="900" y="838" font-size="12" fill="#6e6e6e" textLength="57" lengthAdjust="spacingAndGlyphs">UKOil-,H1</text>
<text x="979" y="838" font-size="12" fill="#6e6e6e" textLength="83" lengthAdjust="spacingAndGlyphs">USDX-,Weekly</text>
<text x="1083" y="838" font-size="12" fill="#6e6e6e" textLength="70" lengthAdjust="spacingAndGlyphs">EURCHF-,H1</text>
<text x="1177" y="838" font-size="12" fill="#6e6e6e" textLength="55" lengthAdjust="spacingAndGlyphs">USOil-,H1</text>
<rect x="112" y="826" width="1" height="14" fill="#707070" shape-rendering="crispEdges"/>
<rect x="437" y="826" width="1" height="14" fill="#707070" shape-rendering="crispEdges"/>
<rect x="547" y="826" width="1" height="14" fill="#707070" shape-rendering="crispEdges"/>
<rect x="668" y="826" width="1" height="14" fill="#707070" shape-rendering="crispEdges"/>
<rect x="793" y="826" width="1" height="14" fill="#707070" shape-rendering="crispEdges"/>
<rect x="890" y="826" width="1" height="14" fill="#707070" shape-rendering="crispEdges"/>
<rect x="968" y="826" width="1" height="14" fill="#707070" shape-rendering="crispEdges"/>
<rect x="1074" y="826" width="1" height="14" fill="#707070" shape-rendering="crispEdges"/>
<rect x="1165" y="826" width="1" height="14" fill="#707070" shape-rendering="crispEdges"/>
<rect x="1244" y="826" width="1" height="14" fill="#707070" shape-rendering="crispEdges"/>
<path d="M1438.2 828.8 L1438.2 835.4 L1434.6 832.1Z" fill="#8c8c8c"/>
<path d="M1453.9 828.8 L1453.9 835.4 L1457.5 832.1Z" fill="#8c8c8c"/>
</g>
</svg>
</body></html>
